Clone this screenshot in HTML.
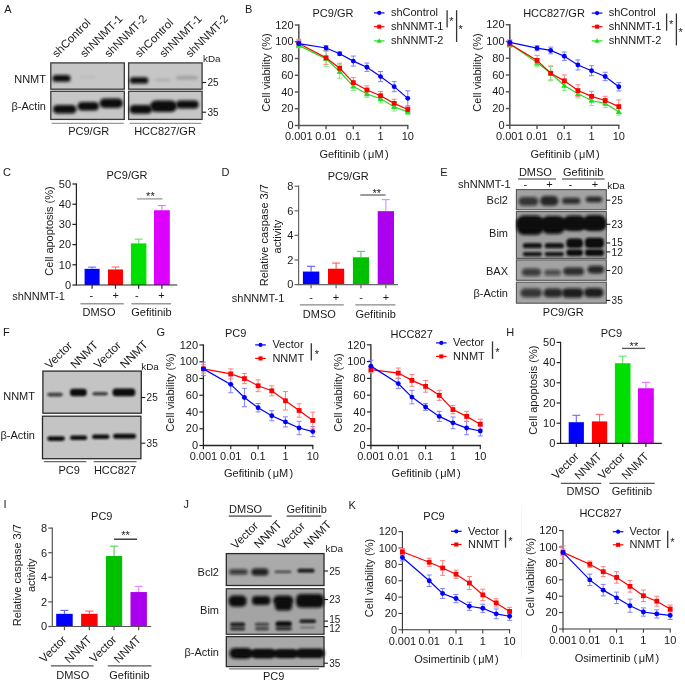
<!DOCTYPE html>
<html><head><meta charset="utf-8"><style>
html,body{margin:0;padding:0;background:#fff;}
svg{display:block;will-change:transform;}
text{font-family:"Liberation Sans", sans-serif;}
</style></head><body>
<svg width="685" height="684" viewBox="0 0 685 684">
<defs>
<filter id="b1" x="-30%" y="-80%" width="160%" height="260%"><feGaussianBlur stdDeviation="1.0"/></filter>
<filter id="b2" x="-30%" y="-80%" width="160%" height="260%"><feGaussianBlur stdDeviation="1.6"/></filter>
<filter id="b3" x="-30%" y="-80%" width="160%" height="260%"><feGaussianBlur stdDeviation="0.6"/></filter>
</defs>
<rect width="685" height="684" fill="#fff"/>
<text x="4.20" y="13.30" font-size="11" text-anchor="start" fill="#1a1a1a" >A</text>
<text x="245.00" y="12.70" font-size="11" text-anchor="start" fill="#1a1a1a" >B</text>
<text x="3.00" y="175.60" font-size="11" text-anchor="start" fill="#1a1a1a" >C</text>
<text x="221.50" y="175.50" font-size="11" text-anchor="start" fill="#1a1a1a" >D</text>
<text x="440.30" y="175.60" font-size="11" text-anchor="start" fill="#1a1a1a" >E</text>
<text x="3.00" y="335.80" font-size="11" text-anchor="start" fill="#1a1a1a" >F</text>
<text x="156.50" y="335.70" font-size="11" text-anchor="start" fill="#1a1a1a" >G</text>
<text x="506.30" y="335.80" font-size="11" text-anchor="start" fill="#1a1a1a" >H</text>
<text x="3.40" y="507.50" font-size="11" text-anchor="start" fill="#1a1a1a" >I</text>
<text x="183.60" y="508.40" font-size="11" text-anchor="start" fill="#1a1a1a" >J</text>
<text x="348.40" y="508.50" font-size="11" text-anchor="start" fill="#1a1a1a" >K</text>
<text transform="translate(56.70,58.00) rotate(-45)" font-size="11.4" text-anchor="start" fill="#1a1a1a" >shControl</text>
<text transform="translate(84.70,58.00) rotate(-45)" font-size="11.4" text-anchor="start" fill="#1a1a1a" >shNNMT-1</text>
<text transform="translate(109.00,58.00) rotate(-45)" font-size="11.4" text-anchor="start" fill="#1a1a1a" >shNNMT-2</text>
<text transform="translate(139.60,58.00) rotate(-45)" font-size="11.4" text-anchor="start" fill="#1a1a1a" >shControl</text>
<text transform="translate(164.00,58.00) rotate(-45)" font-size="11.4" text-anchor="start" fill="#1a1a1a" >shNNMT-1</text>
<text transform="translate(190.30,58.00) rotate(-45)" font-size="11.4" text-anchor="start" fill="#1a1a1a" >shNNMT-2</text>
<rect x="50.80" y="62.90" width="73.50" height="26.30" fill="#c6c6c6" stroke="#3a3a3a" stroke-width="1.3"/>
<rect x="50.80" y="91.30" width="73.50" height="28.10" fill="#c6c6c6" stroke="#3a3a3a" stroke-width="1.3"/>
<rect x="128.60" y="62.90" width="73.50" height="26.30" fill="#c6c6c6" stroke="#3a3a3a" stroke-width="1.3"/>
<rect x="128.60" y="91.30" width="73.50" height="28.10" fill="#c6c6c6" stroke="#3a3a3a" stroke-width="1.3"/>
<rect x="52.50" y="75.00" width="18.00" height="6.80" rx="3.40" fill="#0d0d0d" fill-opacity="1.0" filter="url(#b2)"/>
<rect x="129.80" y="77.20" width="18.50" height="6.40" rx="3.20" fill="#0d0d0d" fill-opacity="1.0" filter="url(#b2)"/>
<rect x="155.00" y="78.50" width="15.00" height="3.00" rx="1.50" fill="#0d0d0d" fill-opacity="0.12" filter="url(#b2)"/>
<rect x="176.00" y="76.00" width="22.00" height="3.50" rx="1.75" fill="#0d0d0d" fill-opacity="0.2" filter="url(#b2)"/>
<rect x="80.00" y="76.00" width="15.00" height="2.00" rx="1.00" fill="#0d0d0d" fill-opacity="0.06" filter="url(#b2)"/>
<rect x="53.00" y="105.00" width="23.50" height="8.50" rx="4.25" fill="#0d0d0d" fill-opacity="1.0" filter="url(#b2)"/>
<rect x="77.50" y="102.00" width="21.50" height="8.50" rx="4.25" fill="#0d0d0d" fill-opacity="1.0" filter="url(#b2)"/>
<rect x="99.50" y="98.50" width="23.50" height="9.50" rx="4.75" fill="#0d0d0d" fill-opacity="1.0" filter="url(#b2)"/>
<rect x="129.50" y="105.00" width="22.50" height="8.80" rx="4.40" fill="#0d0d0d" fill-opacity="1.0" filter="url(#b2)"/>
<rect x="150.00" y="100.50" width="27.00" height="11.50" rx="5.75" fill="#0d0d0d" fill-opacity="1.0" filter="url(#b2)"/>
<rect x="176.00" y="100.50" width="22.70" height="8.00" rx="4.00" fill="#0d0d0d" fill-opacity="1.0" filter="url(#b2)"/>
<text x="46.00" y="82.80" font-size="11" text-anchor="end" fill="#1a1a1a" >NNMT</text>
<text x="46.00" y="110.20" font-size="11" text-anchor="end" fill="#1a1a1a" >β-Actin</text>
<text x="203.00" y="61.80" font-size="9.9" text-anchor="start" fill="#1a1a1a" >kDa</text>
<line x1="202.10" y1="82.50" x2="206.10" y2="82.50" stroke="#1a1a1a" stroke-width="1.1" />
<text x="207.40" y="86.10" font-size="10" text-anchor="start" fill="#1a1a1a" >25</text>
<line x1="202.10" y1="112.20" x2="206.10" y2="112.20" stroke="#1a1a1a" stroke-width="1.1" />
<text x="207.40" y="115.80" font-size="10" text-anchor="start" fill="#1a1a1a" >35</text>
<line x1="51.60" y1="123.30" x2="123.80" y2="123.30" stroke="#999" stroke-width="1.3" />
<line x1="129.60" y1="123.30" x2="201.30" y2="123.30" stroke="#999" stroke-width="1.3" />
<text x="88.70" y="135.10" font-size="11" text-anchor="middle" fill="#1a1a1a" >PC9/GR</text>
<text x="165.00" y="135.10" font-size="11" text-anchor="middle" fill="#1a1a1a" >HCC827/GR</text>
<line x1="298.80" y1="126.30" x2="298.80" y2="24.20" stroke="#555" stroke-width="1.6" />
<line x1="294.80" y1="125.50" x2="298.80" y2="125.50" stroke="#555" stroke-width="1.4400000000000002" />
<text x="293.50" y="129.20" font-size="11" text-anchor="end" fill="#1a1a1a" >0</text>
<line x1="294.80" y1="108.75" x2="298.80" y2="108.75" stroke="#555" stroke-width="1.4400000000000002" />
<text x="293.50" y="112.45" font-size="11" text-anchor="end" fill="#1a1a1a" >20</text>
<line x1="294.80" y1="92.00" x2="298.80" y2="92.00" stroke="#555" stroke-width="1.4400000000000002" />
<text x="293.50" y="95.70" font-size="11" text-anchor="end" fill="#1a1a1a" >40</text>
<line x1="294.80" y1="75.25" x2="298.80" y2="75.25" stroke="#555" stroke-width="1.4400000000000002" />
<text x="293.50" y="78.95" font-size="11" text-anchor="end" fill="#1a1a1a" >60</text>
<line x1="294.80" y1="58.50" x2="298.80" y2="58.50" stroke="#555" stroke-width="1.4400000000000002" />
<text x="293.50" y="62.20" font-size="11" text-anchor="end" fill="#1a1a1a" >80</text>
<line x1="294.80" y1="41.75" x2="298.80" y2="41.75" stroke="#555" stroke-width="1.4400000000000002" />
<text x="293.50" y="45.45" font-size="11" text-anchor="end" fill="#1a1a1a" >100</text>
<line x1="294.80" y1="25.00" x2="298.80" y2="25.00" stroke="#555" stroke-width="1.4400000000000002" />
<text x="293.50" y="28.70" font-size="11" text-anchor="end" fill="#1a1a1a" >120</text>
<line x1="298.80" y1="125.50" x2="408.40" y2="125.50" stroke="#555" stroke-width="1.6" />
<line x1="298.80" y1="125.50" x2="298.80" y2="129.20" stroke="#555" stroke-width="1.4400000000000002" />
<text x="298.80" y="140.20" font-size="11" text-anchor="middle" fill="#1a1a1a" >0.001</text>
<line x1="326.05" y1="125.50" x2="326.05" y2="129.20" stroke="#555" stroke-width="1.4400000000000002" />
<text x="326.05" y="140.20" font-size="11" text-anchor="middle" fill="#1a1a1a" >0.01</text>
<line x1="353.30" y1="125.50" x2="353.30" y2="129.20" stroke="#555" stroke-width="1.4400000000000002" />
<text x="353.30" y="140.20" font-size="11" text-anchor="middle" fill="#1a1a1a" >0.1</text>
<line x1="380.55" y1="125.50" x2="380.55" y2="129.20" stroke="#555" stroke-width="1.4400000000000002" />
<text x="380.55" y="140.20" font-size="11" text-anchor="middle" fill="#1a1a1a" >1</text>
<line x1="407.80" y1="125.50" x2="407.80" y2="129.20" stroke="#555" stroke-width="1.4400000000000002" />
<text x="407.80" y="140.20" font-size="11" text-anchor="middle" fill="#1a1a1a" >10</text>
<text x="333.00" y="17.00" font-size="11" text-anchor="middle" fill="#1a1a1a" >PC9/GR</text>
<text x="354.00" y="158.00" font-size="11" text-anchor="middle" fill="#1a1a1a" >Gefitinib (<tspan dx="1.6">μM</tspan><tspan dx="1.3">)</tspan></text>
<text transform="translate(269.60,72.50) rotate(-90)" font-size="11" text-anchor="middle" fill="#1a1a1a" >Cell viability (%)</text>
<line x1="298.80" y1="46.94" x2="298.80" y2="40.24" stroke="#8080ff" stroke-width="1.0" />
<line x1="296.30" y1="40.24" x2="301.30" y2="40.24" stroke="#8080ff" stroke-width="1.0" />
<line x1="296.30" y1="46.94" x2="301.30" y2="46.94" stroke="#8080ff" stroke-width="1.0" />
<line x1="326.05" y1="50.54" x2="326.05" y2="45.52" stroke="#8080ff" stroke-width="1.0" />
<line x1="323.55" y1="45.52" x2="328.55" y2="45.52" stroke="#8080ff" stroke-width="1.0" />
<line x1="323.55" y1="50.54" x2="328.55" y2="50.54" stroke="#8080ff" stroke-width="1.0" />
<line x1="339.68" y1="55.40" x2="339.68" y2="52.05" stroke="#8080ff" stroke-width="1.0" />
<line x1="337.18" y1="52.05" x2="342.18" y2="52.05" stroke="#8080ff" stroke-width="1.0" />
<line x1="337.18" y1="55.40" x2="342.18" y2="55.40" stroke="#8080ff" stroke-width="1.0" />
<line x1="353.30" y1="66.12" x2="353.30" y2="56.07" stroke="#8080ff" stroke-width="1.0" />
<line x1="350.80" y1="56.07" x2="355.80" y2="56.07" stroke="#8080ff" stroke-width="1.0" />
<line x1="350.80" y1="66.12" x2="355.80" y2="66.12" stroke="#8080ff" stroke-width="1.0" />
<line x1="366.93" y1="71.40" x2="366.93" y2="63.02" stroke="#8080ff" stroke-width="1.0" />
<line x1="364.43" y1="63.02" x2="369.43" y2="63.02" stroke="#8080ff" stroke-width="1.0" />
<line x1="364.43" y1="71.40" x2="369.43" y2="71.40" stroke="#8080ff" stroke-width="1.0" />
<line x1="380.55" y1="81.62" x2="380.55" y2="71.56" stroke="#8080ff" stroke-width="1.0" />
<line x1="378.05" y1="71.56" x2="383.05" y2="71.56" stroke="#8080ff" stroke-width="1.0" />
<line x1="378.05" y1="81.62" x2="383.05" y2="81.62" stroke="#8080ff" stroke-width="1.0" />
<line x1="394.18" y1="91.66" x2="394.18" y2="81.62" stroke="#8080ff" stroke-width="1.0" />
<line x1="391.68" y1="81.62" x2="396.68" y2="81.62" stroke="#8080ff" stroke-width="1.0" />
<line x1="391.68" y1="91.66" x2="396.68" y2="91.66" stroke="#8080ff" stroke-width="1.0" />
<line x1="407.80" y1="105.90" x2="407.80" y2="90.83" stroke="#8080ff" stroke-width="1.0" />
<line x1="405.30" y1="90.83" x2="410.30" y2="90.83" stroke="#8080ff" stroke-width="1.0" />
<line x1="405.30" y1="105.90" x2="410.30" y2="105.90" stroke="#8080ff" stroke-width="1.0" />
<line x1="298.80" y1="47.61" x2="298.80" y2="39.24" stroke="#ff8080" stroke-width="1.0" />
<line x1="296.30" y1="39.24" x2="301.30" y2="39.24" stroke="#ff8080" stroke-width="1.0" />
<line x1="296.30" y1="47.61" x2="301.30" y2="47.61" stroke="#ff8080" stroke-width="1.0" />
<line x1="326.05" y1="64.45" x2="326.05" y2="51.05" stroke="#ff8080" stroke-width="1.0" />
<line x1="323.55" y1="51.05" x2="328.55" y2="51.05" stroke="#ff8080" stroke-width="1.0" />
<line x1="323.55" y1="64.45" x2="328.55" y2="64.45" stroke="#ff8080" stroke-width="1.0" />
<line x1="339.68" y1="73.24" x2="339.68" y2="63.19" stroke="#ff8080" stroke-width="1.0" />
<line x1="337.18" y1="63.19" x2="342.18" y2="63.19" stroke="#ff8080" stroke-width="1.0" />
<line x1="337.18" y1="73.24" x2="342.18" y2="73.24" stroke="#ff8080" stroke-width="1.0" />
<line x1="353.30" y1="87.64" x2="353.30" y2="77.59" stroke="#ff8080" stroke-width="1.0" />
<line x1="350.80" y1="77.59" x2="355.80" y2="77.59" stroke="#ff8080" stroke-width="1.0" />
<line x1="350.80" y1="87.64" x2="355.80" y2="87.64" stroke="#ff8080" stroke-width="1.0" />
<line x1="366.93" y1="94.18" x2="366.93" y2="85.80" stroke="#ff8080" stroke-width="1.0" />
<line x1="364.43" y1="85.80" x2="369.43" y2="85.80" stroke="#ff8080" stroke-width="1.0" />
<line x1="364.43" y1="94.18" x2="369.43" y2="94.18" stroke="#ff8080" stroke-width="1.0" />
<line x1="380.55" y1="99.87" x2="380.55" y2="91.50" stroke="#ff8080" stroke-width="1.0" />
<line x1="378.05" y1="91.50" x2="383.05" y2="91.50" stroke="#ff8080" stroke-width="1.0" />
<line x1="378.05" y1="99.87" x2="383.05" y2="99.87" stroke="#ff8080" stroke-width="1.0" />
<line x1="394.18" y1="107.58" x2="394.18" y2="99.20" stroke="#ff8080" stroke-width="1.0" />
<line x1="391.68" y1="99.20" x2="396.68" y2="99.20" stroke="#ff8080" stroke-width="1.0" />
<line x1="391.68" y1="107.58" x2="396.68" y2="107.58" stroke="#ff8080" stroke-width="1.0" />
<line x1="407.80" y1="112.85" x2="407.80" y2="106.15" stroke="#ff8080" stroke-width="1.0" />
<line x1="405.30" y1="106.15" x2="410.30" y2="106.15" stroke="#ff8080" stroke-width="1.0" />
<line x1="405.30" y1="112.85" x2="410.30" y2="112.85" stroke="#ff8080" stroke-width="1.0" />
<line x1="298.80" y1="47.86" x2="298.80" y2="42.84" stroke="#80ee80" stroke-width="1.0" />
<line x1="296.30" y1="42.84" x2="301.30" y2="42.84" stroke="#80ee80" stroke-width="1.0" />
<line x1="296.30" y1="47.86" x2="301.30" y2="47.86" stroke="#80ee80" stroke-width="1.0" />
<line x1="326.05" y1="66.37" x2="326.05" y2="51.30" stroke="#80ee80" stroke-width="1.0" />
<line x1="323.55" y1="51.30" x2="328.55" y2="51.30" stroke="#80ee80" stroke-width="1.0" />
<line x1="323.55" y1="66.37" x2="328.55" y2="66.37" stroke="#80ee80" stroke-width="1.0" />
<line x1="339.68" y1="78.18" x2="339.68" y2="64.78" stroke="#80ee80" stroke-width="1.0" />
<line x1="337.18" y1="64.78" x2="342.18" y2="64.78" stroke="#80ee80" stroke-width="1.0" />
<line x1="337.18" y1="78.18" x2="342.18" y2="78.18" stroke="#80ee80" stroke-width="1.0" />
<line x1="353.30" y1="90.49" x2="353.30" y2="82.12" stroke="#80ee80" stroke-width="1.0" />
<line x1="350.80" y1="82.12" x2="355.80" y2="82.12" stroke="#80ee80" stroke-width="1.0" />
<line x1="350.80" y1="90.49" x2="355.80" y2="90.49" stroke="#80ee80" stroke-width="1.0" />
<line x1="366.93" y1="97.36" x2="366.93" y2="90.66" stroke="#80ee80" stroke-width="1.0" />
<line x1="364.43" y1="90.66" x2="369.43" y2="90.66" stroke="#80ee80" stroke-width="1.0" />
<line x1="364.43" y1="97.36" x2="369.43" y2="97.36" stroke="#80ee80" stroke-width="1.0" />
<line x1="380.55" y1="102.89" x2="380.55" y2="94.51" stroke="#80ee80" stroke-width="1.0" />
<line x1="378.05" y1="94.51" x2="383.05" y2="94.51" stroke="#80ee80" stroke-width="1.0" />
<line x1="378.05" y1="102.89" x2="383.05" y2="102.89" stroke="#80ee80" stroke-width="1.0" />
<line x1="394.18" y1="111.01" x2="394.18" y2="102.64" stroke="#80ee80" stroke-width="1.0" />
<line x1="391.68" y1="102.64" x2="396.68" y2="102.64" stroke="#80ee80" stroke-width="1.0" />
<line x1="391.68" y1="111.01" x2="396.68" y2="111.01" stroke="#80ee80" stroke-width="1.0" />
<line x1="407.80" y1="114.36" x2="407.80" y2="109.34" stroke="#80ee80" stroke-width="1.0" />
<line x1="405.30" y1="109.34" x2="410.30" y2="109.34" stroke="#80ee80" stroke-width="1.0" />
<line x1="405.30" y1="114.36" x2="410.30" y2="114.36" stroke="#80ee80" stroke-width="1.0" />
<polyline points="298.80,45.35 326.05,58.84 339.68,71.48 353.30,86.31 366.93,94.01 380.55,98.70 394.18,106.82 407.80,111.85" fill="none" stroke="#22dd22" stroke-width="1.2"/>
<polygon points="298.80,42.35 301.80,47.60 295.80,47.60" fill="#22dd22"/>
<polygon points="326.05,55.84 329.05,61.09 323.05,61.09" fill="#22dd22"/>
<polygon points="339.68,68.48 342.68,73.73 336.68,73.73" fill="#22dd22"/>
<polygon points="353.30,83.31 356.30,88.56 350.30,88.56" fill="#22dd22"/>
<polygon points="366.93,91.01 369.93,96.26 363.93,96.26" fill="#22dd22"/>
<polygon points="380.55,95.70 383.55,100.95 377.55,100.95" fill="#22dd22"/>
<polygon points="394.18,103.82 397.18,109.07 391.18,109.07" fill="#22dd22"/>
<polygon points="407.80,108.85 410.80,114.10 404.80,114.10" fill="#22dd22"/>
<polyline points="298.80,43.42 326.05,57.75 339.68,68.22 353.30,82.62 366.93,89.99 380.55,95.69 394.18,103.39 407.80,109.50" fill="none" stroke="#ff0000" stroke-width="1.2"/>
<rect x="296.40" y="41.02" width="4.80" height="4.80" fill="#ff0000" />
<rect x="323.65" y="55.35" width="4.80" height="4.80" fill="#ff0000" />
<rect x="337.28" y="65.81" width="4.80" height="4.80" fill="#ff0000" />
<rect x="350.90" y="80.22" width="4.80" height="4.80" fill="#ff0000" />
<rect x="364.53" y="87.59" width="4.80" height="4.80" fill="#ff0000" />
<rect x="378.15" y="93.28" width="4.80" height="4.80" fill="#ff0000" />
<rect x="391.78" y="100.99" width="4.80" height="4.80" fill="#ff0000" />
<rect x="405.40" y="107.10" width="4.80" height="4.80" fill="#ff0000" />
<polyline points="298.80,43.59 326.05,48.03 339.68,53.73 353.30,61.10 366.93,67.21 380.55,76.59 394.18,86.64 407.80,98.37" fill="none" stroke="#0000ff" stroke-width="1.2"/>
<circle cx="298.80" cy="43.59" r="2.45" fill="#0000ff"/>
<circle cx="326.05" cy="48.03" r="2.45" fill="#0000ff"/>
<circle cx="339.68" cy="53.73" r="2.45" fill="#0000ff"/>
<circle cx="353.30" cy="61.10" r="2.45" fill="#0000ff"/>
<circle cx="366.93" cy="67.21" r="2.45" fill="#0000ff"/>
<circle cx="380.55" cy="76.59" r="2.45" fill="#0000ff"/>
<circle cx="394.18" cy="86.64" r="2.45" fill="#0000ff"/>
<circle cx="407.80" cy="98.37" r="2.45" fill="#0000ff"/>
<line x1="373.90" y1="12.90" x2="384.50" y2="12.90" stroke="#0000ff" stroke-width="1.2" />
<circle cx="379.20" cy="12.90" r="2.08" fill="#0000ff"/>
<text x="390.90" y="16.20" font-size="11" text-anchor="start" fill="#1a1a1a" >shControl</text>
<line x1="373.90" y1="26.70" x2="384.50" y2="26.70" stroke="#ff0000" stroke-width="1.2" />
<rect x="377.16" y="24.66" width="4.08" height="4.08" fill="#ff0000" />
<text x="390.90" y="30.00" font-size="11" text-anchor="start" fill="#1a1a1a" >shNNMT-1</text>
<line x1="373.90" y1="40.90" x2="384.50" y2="40.90" stroke="#22dd22" stroke-width="1.2" />
<polygon points="379.20,38.35 381.75,42.81 376.65,42.81" fill="#22dd22"/>
<text x="390.90" y="44.20" font-size="11" text-anchor="start" fill="#1a1a1a" >shNNMT-2</text>
<line x1="447.10" y1="10.20" x2="447.10" y2="27.60" stroke="#333" stroke-width="1.3" />
<text x="451.50" y="24.90" font-size="11" text-anchor="middle" fill="#1a1a1a" >*</text>
<line x1="456.60" y1="10.20" x2="456.60" y2="42.00" stroke="#333" stroke-width="1.3" />
<text x="460.70" y="33.10" font-size="11" text-anchor="middle" fill="#1a1a1a" >*</text>
<line x1="509.80" y1="126.10" x2="509.80" y2="23.90" stroke="#555" stroke-width="1.6" />
<line x1="505.80" y1="125.30" x2="509.80" y2="125.30" stroke="#555" stroke-width="1.4400000000000002" />
<text x="504.50" y="129.00" font-size="11" text-anchor="end" fill="#1a1a1a" >0</text>
<line x1="505.80" y1="108.53" x2="509.80" y2="108.53" stroke="#555" stroke-width="1.4400000000000002" />
<text x="504.50" y="112.23" font-size="11" text-anchor="end" fill="#1a1a1a" >20</text>
<line x1="505.80" y1="91.77" x2="509.80" y2="91.77" stroke="#555" stroke-width="1.4400000000000002" />
<text x="504.50" y="95.47" font-size="11" text-anchor="end" fill="#1a1a1a" >40</text>
<line x1="505.80" y1="75.00" x2="509.80" y2="75.00" stroke="#555" stroke-width="1.4400000000000002" />
<text x="504.50" y="78.70" font-size="11" text-anchor="end" fill="#1a1a1a" >60</text>
<line x1="505.80" y1="58.24" x2="509.80" y2="58.24" stroke="#555" stroke-width="1.4400000000000002" />
<text x="504.50" y="61.94" font-size="11" text-anchor="end" fill="#1a1a1a" >80</text>
<line x1="505.80" y1="41.47" x2="509.80" y2="41.47" stroke="#555" stroke-width="1.4400000000000002" />
<text x="504.50" y="45.17" font-size="11" text-anchor="end" fill="#1a1a1a" >100</text>
<line x1="505.80" y1="24.70" x2="509.80" y2="24.70" stroke="#555" stroke-width="1.4400000000000002" />
<text x="504.50" y="28.40" font-size="11" text-anchor="end" fill="#1a1a1a" >120</text>
<line x1="509.80" y1="125.30" x2="619.40" y2="125.30" stroke="#555" stroke-width="1.6" />
<line x1="509.80" y1="125.30" x2="509.80" y2="129.00" stroke="#555" stroke-width="1.4400000000000002" />
<text x="509.80" y="140.00" font-size="11" text-anchor="middle" fill="#1a1a1a" >0.001</text>
<line x1="537.05" y1="125.30" x2="537.05" y2="129.00" stroke="#555" stroke-width="1.4400000000000002" />
<text x="537.05" y="140.00" font-size="11" text-anchor="middle" fill="#1a1a1a" >0.01</text>
<line x1="564.30" y1="125.30" x2="564.30" y2="129.00" stroke="#555" stroke-width="1.4400000000000002" />
<text x="564.30" y="140.00" font-size="11" text-anchor="middle" fill="#1a1a1a" >0.1</text>
<line x1="591.55" y1="125.30" x2="591.55" y2="129.00" stroke="#555" stroke-width="1.4400000000000002" />
<text x="591.55" y="140.00" font-size="11" text-anchor="middle" fill="#1a1a1a" >1</text>
<line x1="618.80" y1="125.30" x2="618.80" y2="129.00" stroke="#555" stroke-width="1.4400000000000002" />
<text x="618.80" y="140.00" font-size="11" text-anchor="middle" fill="#1a1a1a" >10</text>
<text x="554.00" y="17.00" font-size="11" text-anchor="middle" fill="#1a1a1a" >HCC827/GR</text>
<text x="565.00" y="157.50" font-size="11" text-anchor="middle" fill="#1a1a1a" >Gefitinib (<tspan dx="1.6">μM</tspan><tspan dx="1.3">)</tspan></text>
<text transform="translate(480.60,72.50) rotate(-90)" font-size="11" text-anchor="middle" fill="#1a1a1a" >Cell viability (%)</text>
<line x1="509.80" y1="44.91" x2="509.80" y2="39.88" stroke="#8080ff" stroke-width="1.0" />
<line x1="507.30" y1="39.88" x2="512.30" y2="39.88" stroke="#8080ff" stroke-width="1.0" />
<line x1="507.30" y1="44.91" x2="512.30" y2="44.91" stroke="#8080ff" stroke-width="1.0" />
<line x1="537.05" y1="50.69" x2="537.05" y2="45.66" stroke="#8080ff" stroke-width="1.0" />
<line x1="534.55" y1="45.66" x2="539.55" y2="45.66" stroke="#8080ff" stroke-width="1.0" />
<line x1="534.55" y1="50.69" x2="539.55" y2="50.69" stroke="#8080ff" stroke-width="1.0" />
<line x1="550.67" y1="53.79" x2="550.67" y2="47.09" stroke="#8080ff" stroke-width="1.0" />
<line x1="548.17" y1="47.09" x2="553.17" y2="47.09" stroke="#8080ff" stroke-width="1.0" />
<line x1="548.17" y1="53.79" x2="553.17" y2="53.79" stroke="#8080ff" stroke-width="1.0" />
<line x1="564.30" y1="60.42" x2="564.30" y2="52.03" stroke="#8080ff" stroke-width="1.0" />
<line x1="561.80" y1="52.03" x2="566.80" y2="52.03" stroke="#8080ff" stroke-width="1.0" />
<line x1="561.80" y1="60.42" x2="566.80" y2="60.42" stroke="#8080ff" stroke-width="1.0" />
<line x1="577.92" y1="69.97" x2="577.92" y2="59.91" stroke="#8080ff" stroke-width="1.0" />
<line x1="575.42" y1="59.91" x2="580.42" y2="59.91" stroke="#8080ff" stroke-width="1.0" />
<line x1="575.42" y1="69.97" x2="580.42" y2="69.97" stroke="#8080ff" stroke-width="1.0" />
<line x1="591.55" y1="75.76" x2="591.55" y2="65.70" stroke="#8080ff" stroke-width="1.0" />
<line x1="589.05" y1="65.70" x2="594.05" y2="65.70" stroke="#8080ff" stroke-width="1.0" />
<line x1="589.05" y1="75.76" x2="594.05" y2="75.76" stroke="#8080ff" stroke-width="1.0" />
<line x1="605.17" y1="80.62" x2="605.17" y2="72.24" stroke="#8080ff" stroke-width="1.0" />
<line x1="602.67" y1="72.24" x2="607.67" y2="72.24" stroke="#8080ff" stroke-width="1.0" />
<line x1="602.67" y1="80.62" x2="607.67" y2="80.62" stroke="#8080ff" stroke-width="1.0" />
<line x1="618.80" y1="90.93" x2="618.80" y2="82.55" stroke="#8080ff" stroke-width="1.0" />
<line x1="616.30" y1="82.55" x2="621.30" y2="82.55" stroke="#8080ff" stroke-width="1.0" />
<line x1="616.30" y1="90.93" x2="621.30" y2="90.93" stroke="#8080ff" stroke-width="1.0" />
<line x1="509.80" y1="47.34" x2="509.80" y2="40.63" stroke="#ff8080" stroke-width="1.0" />
<line x1="507.30" y1="40.63" x2="512.30" y2="40.63" stroke="#ff8080" stroke-width="1.0" />
<line x1="507.30" y1="47.34" x2="512.30" y2="47.34" stroke="#ff8080" stroke-width="1.0" />
<line x1="537.05" y1="65.45" x2="537.05" y2="55.39" stroke="#ff8080" stroke-width="1.0" />
<line x1="534.55" y1="55.39" x2="539.55" y2="55.39" stroke="#ff8080" stroke-width="1.0" />
<line x1="534.55" y1="65.45" x2="539.55" y2="65.45" stroke="#ff8080" stroke-width="1.0" />
<line x1="550.67" y1="79.95" x2="550.67" y2="66.54" stroke="#ff8080" stroke-width="1.0" />
<line x1="548.17" y1="66.54" x2="553.17" y2="66.54" stroke="#ff8080" stroke-width="1.0" />
<line x1="548.17" y1="79.95" x2="553.17" y2="79.95" stroke="#ff8080" stroke-width="1.0" />
<line x1="564.30" y1="86.74" x2="564.30" y2="75.00" stroke="#ff8080" stroke-width="1.0" />
<line x1="561.80" y1="75.00" x2="566.80" y2="75.00" stroke="#ff8080" stroke-width="1.0" />
<line x1="561.80" y1="86.74" x2="566.80" y2="86.74" stroke="#ff8080" stroke-width="1.0" />
<line x1="577.92" y1="96.46" x2="577.92" y2="84.73" stroke="#ff8080" stroke-width="1.0" />
<line x1="575.42" y1="84.73" x2="580.42" y2="84.73" stroke="#ff8080" stroke-width="1.0" />
<line x1="575.42" y1="96.46" x2="580.42" y2="96.46" stroke="#ff8080" stroke-width="1.0" />
<line x1="591.55" y1="101.41" x2="591.55" y2="91.35" stroke="#ff8080" stroke-width="1.0" />
<line x1="589.05" y1="91.35" x2="594.05" y2="91.35" stroke="#ff8080" stroke-width="1.0" />
<line x1="589.05" y1="101.41" x2="594.05" y2="101.41" stroke="#ff8080" stroke-width="1.0" />
<line x1="605.17" y1="104.68" x2="605.17" y2="96.29" stroke="#ff8080" stroke-width="1.0" />
<line x1="602.67" y1="96.29" x2="607.67" y2="96.29" stroke="#ff8080" stroke-width="1.0" />
<line x1="602.67" y1="104.68" x2="607.67" y2="104.68" stroke="#ff8080" stroke-width="1.0" />
<line x1="618.80" y1="113.31" x2="618.80" y2="99.90" stroke="#ff8080" stroke-width="1.0" />
<line x1="616.30" y1="99.90" x2="621.30" y2="99.90" stroke="#ff8080" stroke-width="1.0" />
<line x1="616.30" y1="113.31" x2="621.30" y2="113.31" stroke="#ff8080" stroke-width="1.0" />
<line x1="509.80" y1="46.50" x2="509.80" y2="41.47" stroke="#80ee80" stroke-width="1.0" />
<line x1="507.30" y1="41.47" x2="512.30" y2="41.47" stroke="#80ee80" stroke-width="1.0" />
<line x1="507.30" y1="46.50" x2="512.30" y2="46.50" stroke="#80ee80" stroke-width="1.0" />
<line x1="537.05" y1="66.79" x2="537.05" y2="58.40" stroke="#80ee80" stroke-width="1.0" />
<line x1="534.55" y1="58.40" x2="539.55" y2="58.40" stroke="#80ee80" stroke-width="1.0" />
<line x1="534.55" y1="66.79" x2="539.55" y2="66.79" stroke="#80ee80" stroke-width="1.0" />
<line x1="550.67" y1="80.87" x2="550.67" y2="65.78" stroke="#80ee80" stroke-width="1.0" />
<line x1="548.17" y1="65.78" x2="553.17" y2="65.78" stroke="#80ee80" stroke-width="1.0" />
<line x1="548.17" y1="80.87" x2="553.17" y2="80.87" stroke="#80ee80" stroke-width="1.0" />
<line x1="564.30" y1="90.43" x2="564.30" y2="80.37" stroke="#80ee80" stroke-width="1.0" />
<line x1="561.80" y1="80.37" x2="566.80" y2="80.37" stroke="#80ee80" stroke-width="1.0" />
<line x1="561.80" y1="90.43" x2="566.80" y2="90.43" stroke="#80ee80" stroke-width="1.0" />
<line x1="577.92" y1="97.97" x2="577.92" y2="89.59" stroke="#80ee80" stroke-width="1.0" />
<line x1="575.42" y1="89.59" x2="580.42" y2="89.59" stroke="#80ee80" stroke-width="1.0" />
<line x1="575.42" y1="97.97" x2="580.42" y2="97.97" stroke="#80ee80" stroke-width="1.0" />
<line x1="591.55" y1="105.52" x2="591.55" y2="95.46" stroke="#80ee80" stroke-width="1.0" />
<line x1="589.05" y1="95.46" x2="594.05" y2="95.46" stroke="#80ee80" stroke-width="1.0" />
<line x1="589.05" y1="105.52" x2="594.05" y2="105.52" stroke="#80ee80" stroke-width="1.0" />
<line x1="605.17" y1="107.61" x2="605.17" y2="99.23" stroke="#80ee80" stroke-width="1.0" />
<line x1="602.67" y1="99.23" x2="607.67" y2="99.23" stroke="#80ee80" stroke-width="1.0" />
<line x1="602.67" y1="107.61" x2="607.67" y2="107.61" stroke="#80ee80" stroke-width="1.0" />
<line x1="618.80" y1="115.16" x2="618.80" y2="108.45" stroke="#80ee80" stroke-width="1.0" />
<line x1="616.30" y1="108.45" x2="621.30" y2="108.45" stroke="#80ee80" stroke-width="1.0" />
<line x1="616.30" y1="115.16" x2="621.30" y2="115.16" stroke="#80ee80" stroke-width="1.0" />
<polyline points="509.80,43.98 537.05,62.60 550.67,73.33 564.30,85.40 577.92,93.78 591.55,100.49 605.17,103.42 618.80,111.80" fill="none" stroke="#22dd22" stroke-width="1.2"/>
<polygon points="509.80,40.98 512.80,46.23 506.80,46.23" fill="#22dd22"/>
<polygon points="537.05,59.60 540.05,64.85 534.05,64.85" fill="#22dd22"/>
<polygon points="550.67,70.33 553.67,75.58 547.67,75.58" fill="#22dd22"/>
<polygon points="564.30,82.40 567.30,87.65 561.30,87.65" fill="#22dd22"/>
<polygon points="577.92,90.78 580.92,96.03 574.92,96.03" fill="#22dd22"/>
<polygon points="591.55,97.49 594.55,102.74 588.55,102.74" fill="#22dd22"/>
<polygon points="605.17,100.42 608.17,105.67 602.17,105.67" fill="#22dd22"/>
<polygon points="618.80,108.80 621.80,114.05 615.80,114.05" fill="#22dd22"/>
<polyline points="509.80,43.98 537.05,60.42 550.67,73.24 564.30,80.87 577.92,90.59 591.55,96.38 605.17,100.49 618.80,106.61" fill="none" stroke="#ff0000" stroke-width="1.2"/>
<rect x="507.40" y="41.58" width="4.80" height="4.80" fill="#ff0000" />
<rect x="534.65" y="58.02" width="4.80" height="4.80" fill="#ff0000" />
<rect x="548.27" y="70.84" width="4.80" height="4.80" fill="#ff0000" />
<rect x="561.90" y="78.47" width="4.80" height="4.80" fill="#ff0000" />
<rect x="575.52" y="88.19" width="4.80" height="4.80" fill="#ff0000" />
<rect x="589.15" y="93.98" width="4.80" height="4.80" fill="#ff0000" />
<rect x="602.77" y="98.09" width="4.80" height="4.80" fill="#ff0000" />
<rect x="616.40" y="104.21" width="4.80" height="4.80" fill="#ff0000" />
<polyline points="509.80,42.39 537.05,48.18 550.67,50.44 564.30,56.22 577.92,64.94 591.55,70.73 605.17,76.43 618.80,86.74" fill="none" stroke="#0000ff" stroke-width="1.2"/>
<circle cx="509.80" cy="42.39" r="2.45" fill="#0000ff"/>
<circle cx="537.05" cy="48.18" r="2.45" fill="#0000ff"/>
<circle cx="550.67" cy="50.44" r="2.45" fill="#0000ff"/>
<circle cx="564.30" cy="56.22" r="2.45" fill="#0000ff"/>
<circle cx="577.92" cy="64.94" r="2.45" fill="#0000ff"/>
<circle cx="591.55" cy="70.73" r="2.45" fill="#0000ff"/>
<circle cx="605.17" cy="76.43" r="2.45" fill="#0000ff"/>
<circle cx="618.80" cy="86.74" r="2.45" fill="#0000ff"/>
<line x1="591.80" y1="13.10" x2="602.40" y2="13.10" stroke="#0000ff" stroke-width="1.2" />
<circle cx="597.10" cy="13.10" r="2.08" fill="#0000ff"/>
<text x="608.70" y="16.40" font-size="11" text-anchor="start" fill="#1a1a1a" >shControl</text>
<line x1="591.80" y1="26.70" x2="602.40" y2="26.70" stroke="#ff0000" stroke-width="1.2" />
<rect x="595.06" y="24.66" width="4.08" height="4.08" fill="#ff0000" />
<text x="608.70" y="30.00" font-size="11" text-anchor="start" fill="#1a1a1a" >shNNMT-1</text>
<line x1="591.80" y1="40.90" x2="602.40" y2="40.90" stroke="#22dd22" stroke-width="1.2" />
<polygon points="597.10,38.35 599.65,42.81 594.55,42.81" fill="#22dd22"/>
<text x="608.70" y="44.20" font-size="11" text-anchor="start" fill="#1a1a1a" >shNNMT-2</text>
<line x1="666.60" y1="13.50" x2="666.60" y2="30.70" stroke="#333" stroke-width="1.3" />
<text x="671.20" y="28.00" font-size="11" text-anchor="middle" fill="#1a1a1a" >*</text>
<line x1="676.40" y1="13.50" x2="676.40" y2="45.40" stroke="#333" stroke-width="1.3" />
<text x="680.60" y="36.40" font-size="11" text-anchor="middle" fill="#1a1a1a" >*</text>
<line x1="92.10" y1="268.84" x2="92.10" y2="267.12" stroke="#6a6aff" stroke-width="1.1" />
<line x1="88.10" y1="267.12" x2="96.10" y2="267.12" stroke="#6a6aff" stroke-width="1.1" />
<rect x="84.60" y="268.84" width="15.00" height="16.16" fill="#0000ff" />
<line x1="115.50" y1="269.45" x2="115.50" y2="267.02" stroke="#ff6a6a" stroke-width="1.1" />
<line x1="111.50" y1="267.02" x2="119.50" y2="267.02" stroke="#ff6a6a" stroke-width="1.1" />
<rect x="108.00" y="269.45" width="15.00" height="15.55" fill="#ff0000" />
<line x1="138.65" y1="243.39" x2="138.65" y2="239.15" stroke="#60e860" stroke-width="1.1" />
<line x1="134.65" y1="239.15" x2="142.65" y2="239.15" stroke="#60e860" stroke-width="1.1" />
<rect x="130.90" y="243.39" width="15.50" height="41.61" fill="#00e000" />
<line x1="161.90" y1="210.26" x2="161.90" y2="205.61" stroke="#e870ff" stroke-width="1.1" />
<line x1="157.90" y1="205.61" x2="165.90" y2="205.61" stroke="#e870ff" stroke-width="1.1" />
<rect x="154.00" y="210.26" width="15.80" height="74.74" fill="#dd00ff" />
<line x1="76.40" y1="285.60" x2="76.40" y2="183.40" stroke="#222" stroke-width="1.2" />
<line x1="72.40" y1="285.00" x2="76.40" y2="285.00" stroke="#222" stroke-width="1.2" />
<text x="71.10" y="288.80" font-size="11" text-anchor="end" fill="#1a1a1a" >0</text>
<line x1="72.40" y1="264.80" x2="76.40" y2="264.80" stroke="#222" stroke-width="1.2" />
<text x="71.10" y="268.60" font-size="11" text-anchor="end" fill="#1a1a1a" >10</text>
<line x1="72.40" y1="244.60" x2="76.40" y2="244.60" stroke="#222" stroke-width="1.2" />
<text x="71.10" y="248.40" font-size="11" text-anchor="end" fill="#1a1a1a" >20</text>
<line x1="72.40" y1="224.40" x2="76.40" y2="224.40" stroke="#222" stroke-width="1.2" />
<text x="71.10" y="228.20" font-size="11" text-anchor="end" fill="#1a1a1a" >30</text>
<line x1="72.40" y1="204.20" x2="76.40" y2="204.20" stroke="#222" stroke-width="1.2" />
<text x="71.10" y="208.00" font-size="11" text-anchor="end" fill="#1a1a1a" >40</text>
<line x1="72.40" y1="184.00" x2="76.40" y2="184.00" stroke="#222" stroke-width="1.2" />
<text x="71.10" y="187.80" font-size="11" text-anchor="end" fill="#1a1a1a" >50</text>
<line x1="76.40" y1="285.00" x2="177.30" y2="285.00" stroke="#222" stroke-width="1.2" />
<line x1="92.10" y1="285.00" x2="92.10" y2="288.70" stroke="#222" stroke-width="1.2" />
<line x1="115.50" y1="285.00" x2="115.50" y2="288.70" stroke="#222" stroke-width="1.2" />
<line x1="138.65" y1="285.00" x2="138.65" y2="288.70" stroke="#222" stroke-width="1.2" />
<line x1="161.90" y1="285.00" x2="161.90" y2="288.70" stroke="#222" stroke-width="1.2" />
<text transform="translate(52.50,231.00) rotate(-90)" font-size="11" text-anchor="middle" fill="#1a1a1a" >Cell apoptosis (%)</text>
<text x="127.00" y="178.70" font-size="11" text-anchor="middle" fill="#1a1a1a" >PC9/GR</text>
<line x1="137.10" y1="198.90" x2="162.50" y2="198.90" stroke="#999" stroke-width="1.3" />
<text x="150.40" y="200.15" font-size="11" text-anchor="middle" fill="#1a1a1a" >**</text>
<text x="12.20" y="300.40" font-size="11" text-anchor="start" fill="#1a1a1a" >shNNMT-1</text>
<text x="91.30" y="299.20" font-size="11" text-anchor="middle" fill="#1a1a1a" >-</text>
<text x="115.60" y="299.20" font-size="11" text-anchor="middle" fill="#1a1a1a" >+</text>
<text x="136.90" y="299.20" font-size="11" text-anchor="middle" fill="#1a1a1a" >-</text>
<text x="161.40" y="299.20" font-size="11" text-anchor="middle" fill="#1a1a1a" >+</text>
<line x1="80.40" y1="303.80" x2="123.80" y2="303.80" stroke="#999" stroke-width="1.4" />
<line x1="131.30" y1="303.80" x2="171.10" y2="303.80" stroke="#999" stroke-width="1.4" />
<text x="99.00" y="316.10" font-size="11" text-anchor="middle" fill="#1a1a1a" >DMSO</text>
<text x="151.50" y="316.10" font-size="11" text-anchor="middle" fill="#1a1a1a" >Gefitinib</text>
<line x1="311.10" y1="271.56" x2="311.10" y2="266.27" stroke="#5a5aff" stroke-width="1.1" />
<line x1="307.10" y1="266.27" x2="315.10" y2="266.27" stroke="#5a5aff" stroke-width="1.1" />
<rect x="302.90" y="271.56" width="16.40" height="13.04" fill="#0000ff" />
<line x1="336.10" y1="268.73" x2="336.10" y2="263.08" stroke="#ff5a5a" stroke-width="1.1" />
<line x1="332.10" y1="263.08" x2="340.10" y2="263.08" stroke="#ff5a5a" stroke-width="1.1" />
<rect x="328.00" y="268.73" width="16.20" height="15.87" fill="#ff0000" />
<line x1="360.95" y1="257.29" x2="360.95" y2="251.39" stroke="#50d050" stroke-width="1.1" />
<line x1="356.95" y1="251.39" x2="364.95" y2="251.39" stroke="#50d050" stroke-width="1.1" />
<rect x="352.90" y="257.29" width="16.10" height="27.31" fill="#00c000" />
<line x1="385.85" y1="211.17" x2="385.85" y2="199.61" stroke="#dd88ff" stroke-width="1.1" />
<line x1="381.85" y1="199.61" x2="389.85" y2="199.61" stroke="#dd88ff" stroke-width="1.1" />
<rect x="377.70" y="211.17" width="16.30" height="73.43" fill="#aa00ee" />
<line x1="298.60" y1="285.20" x2="298.60" y2="185.60" stroke="#666" stroke-width="1.2" />
<line x1="294.60" y1="284.60" x2="298.60" y2="284.60" stroke="#666" stroke-width="1.2" />
<text x="293.30" y="288.40" font-size="11" text-anchor="end" fill="#1a1a1a" >0</text>
<line x1="294.60" y1="260.00" x2="298.60" y2="260.00" stroke="#666" stroke-width="1.2" />
<text x="293.30" y="263.80" font-size="11" text-anchor="end" fill="#1a1a1a" >2</text>
<line x1="294.60" y1="235.40" x2="298.60" y2="235.40" stroke="#666" stroke-width="1.2" />
<text x="293.30" y="239.20" font-size="11" text-anchor="end" fill="#1a1a1a" >4</text>
<line x1="294.60" y1="210.80" x2="298.60" y2="210.80" stroke="#666" stroke-width="1.2" />
<text x="293.30" y="214.60" font-size="11" text-anchor="end" fill="#1a1a1a" >6</text>
<line x1="294.60" y1="186.20" x2="298.60" y2="186.20" stroke="#666" stroke-width="1.2" />
<text x="293.30" y="190.00" font-size="11" text-anchor="end" fill="#1a1a1a" >8</text>
<line x1="298.60" y1="284.60" x2="397.90" y2="284.60" stroke="#666" stroke-width="1.2" />
<line x1="311.10" y1="284.60" x2="311.10" y2="288.30" stroke="#666" stroke-width="1.2" />
<line x1="336.10" y1="284.60" x2="336.10" y2="288.30" stroke="#666" stroke-width="1.2" />
<line x1="360.95" y1="284.60" x2="360.95" y2="288.30" stroke="#666" stroke-width="1.2" />
<line x1="385.85" y1="284.60" x2="385.85" y2="288.30" stroke="#666" stroke-width="1.2" />
<text transform="translate(267.70,235.20) rotate(-90)" font-size="11" text-anchor="middle" fill="#1a1a1a" >Relative caspase 3/7</text>
<text transform="translate(281.10,236.60) rotate(-90)" font-size="11" text-anchor="middle" fill="#1a1a1a" >activity</text>
<text x="348.20" y="180.00" font-size="11" text-anchor="middle" fill="#1a1a1a" >PC9/GR</text>
<line x1="360.30" y1="195.00" x2="385.60" y2="195.00" stroke="#666" stroke-width="1.3" />
<text x="376.70" y="196.65" font-size="11" text-anchor="middle" fill="#1a1a1a" >**</text>
<text x="231.80" y="302.20" font-size="11" text-anchor="start" fill="#1a1a1a" >shNNMT-1</text>
<text x="311.00" y="301.00" font-size="11" text-anchor="middle" fill="#1a1a1a" >-</text>
<text x="336.00" y="301.00" font-size="11" text-anchor="middle" fill="#1a1a1a" >+</text>
<text x="361.00" y="301.00" font-size="11" text-anchor="middle" fill="#1a1a1a" >-</text>
<text x="386.00" y="301.00" font-size="11" text-anchor="middle" fill="#1a1a1a" >+</text>
<line x1="299.90" y1="304.90" x2="343.80" y2="304.90" stroke="#888" stroke-width="1.3" />
<line x1="355.30" y1="304.90" x2="395.50" y2="304.90" stroke="#888" stroke-width="1.3" />
<text x="319.30" y="318.20" font-size="11" text-anchor="middle" fill="#1a1a1a" >DMSO</text>
<text x="375.60" y="318.20" font-size="11" text-anchor="middle" fill="#1a1a1a" >Gefitinib</text>
<text x="535.40" y="176.40" font-size="11" text-anchor="middle" fill="#1a1a1a" >DMSO</text>
<text x="583.20" y="176.40" font-size="11" text-anchor="middle" fill="#1a1a1a" >Gefitinib</text>
<line x1="517.90" y1="178.90" x2="555.90" y2="178.90" stroke="#777" stroke-width="1.5" />
<line x1="562.00" y1="178.90" x2="604.60" y2="178.90" stroke="#777" stroke-width="1.5" />
<text x="458.10" y="188.40" font-size="11" text-anchor="start" fill="#1a1a1a" >shNNMT-1</text>
<text x="525.40" y="188.40" font-size="11" text-anchor="middle" fill="#1a1a1a" >-</text>
<text x="549.40" y="188.40" font-size="11" text-anchor="middle" fill="#1a1a1a" >+</text>
<text x="570.40" y="188.40" font-size="11" text-anchor="middle" fill="#1a1a1a" >-</text>
<text x="595.00" y="188.40" font-size="11" text-anchor="middle" fill="#1a1a1a" >+</text>
<text x="607.20" y="188.80" font-size="9.9" text-anchor="start" fill="#1a1a1a" >kDa</text>
<rect x="516.40" y="189.60" width="89.90" height="20.10" fill="#a3a3a3" stroke="#555555" stroke-width="1.1"/>
<rect x="516.40" y="211.50" width="89.90" height="46.90" fill="#9e9e9e" stroke="#555555" stroke-width="1.1"/>
<rect x="516.40" y="259.90" width="89.90" height="20.40" fill="#a3a3a3" stroke="#555555" stroke-width="1.1"/>
<rect x="516.40" y="282.20" width="89.90" height="21.00" fill="#a3a3a3" stroke="#555555" stroke-width="1.1"/>
<rect x="518.50" y="197.00" width="19.80" height="8.80" rx="4.40" fill="#0d0d0d" fill-opacity="0.75" filter="url(#b2)"/>
<rect x="540.10" y="196.00" width="18.30" height="9.80" rx="4.90" fill="#0d0d0d" fill-opacity="0.85" filter="url(#b2)"/>
<rect x="562.00" y="197.80" width="18.30" height="6.20" rx="3.10" fill="#0d0d0d" fill-opacity="0.8" filter="url(#b2)"/>
<rect x="585.80" y="196.80" width="16.40" height="5.40" rx="2.70" fill="#0d0d0d" fill-opacity="0.85" filter="url(#b2)"/>
<rect x="517.00" y="215.50" width="26.50" height="19.50" rx="7.00" fill="#0d0d0d" fill-opacity="1.0" filter="url(#b2)"/>
<rect x="541.50" y="216.00" width="23.50" height="18.00" rx="7.00" fill="#0d0d0d" fill-opacity="1.0" filter="url(#b2)"/>
<rect x="563.50" y="215.50" width="21.50" height="15.50" rx="6.00" fill="#0d0d0d" fill-opacity="1.0" filter="url(#b2)"/>
<rect x="583.50" y="215.00" width="22.00" height="16.00" rx="6.00" fill="#0d0d0d" fill-opacity="1.0" filter="url(#b2)"/>
<rect x="517.00" y="219.00" width="88.00" height="10.00" rx="3.00" fill="#0d0d0d" fill-opacity="1.0" filter="url(#b1)"/>
<rect x="522.80" y="243.00" width="19.20" height="5.30" rx="2.65" fill="#0d0d0d" fill-opacity="0.95" filter="url(#b1)"/>
<rect x="544.70" y="243.00" width="19.20" height="5.30" rx="2.65" fill="#0d0d0d" fill-opacity="0.95" filter="url(#b1)"/>
<rect x="566.30" y="238.50" width="16.70" height="9.50" rx="4.00" fill="#0d0d0d" fill-opacity="1.0" filter="url(#b1)"/>
<rect x="584.90" y="237.80" width="19.10" height="10.20" rx="4.00" fill="#0d0d0d" fill-opacity="1.0" filter="url(#b1)"/>
<rect x="522.80" y="252.00" width="19.20" height="4.30" rx="2.15" fill="#0d0d0d" fill-opacity="0.95" filter="url(#b1)"/>
<rect x="544.70" y="252.00" width="19.20" height="4.30" rx="2.15" fill="#0d0d0d" fill-opacity="0.95" filter="url(#b1)"/>
<rect x="566.30" y="249.50" width="16.70" height="6.50" rx="3.25" fill="#0d0d0d" fill-opacity="1.0" filter="url(#b1)"/>
<rect x="584.90" y="249.30" width="19.10" height="6.70" rx="3.35" fill="#0d0d0d" fill-opacity="1.0" filter="url(#b1)"/>
<rect x="521.90" y="268.50" width="19.10" height="7.50" rx="3.75" fill="#0d0d0d" fill-opacity="0.7" filter="url(#b2)"/>
<rect x="544.30" y="269.80" width="16.50" height="5.80" rx="2.90" fill="#0d0d0d" fill-opacity="0.6" filter="url(#b2)"/>
<rect x="563.30" y="267.50" width="20.70" height="7.70" rx="3.85" fill="#0d0d0d" fill-opacity="0.8" filter="url(#b2)"/>
<rect x="587.60" y="265.80" width="16.40" height="7.60" rx="3.80" fill="#0d0d0d" fill-opacity="0.85" filter="url(#b2)"/>
<rect x="520.50" y="288.50" width="21.50" height="8.80" rx="4.40" fill="#0d0d0d" fill-opacity="0.75" filter="url(#b2)"/>
<rect x="543.50" y="288.50" width="19.00" height="8.80" rx="4.40" fill="#0d0d0d" fill-opacity="0.85" filter="url(#b2)"/>
<rect x="562.00" y="288.20" width="21.50" height="9.60" rx="4.80" fill="#0d0d0d" fill-opacity="0.9" filter="url(#b2)"/>
<rect x="584.00" y="288.00" width="19.50" height="9.30" rx="4.65" fill="#0d0d0d" fill-opacity="0.9" filter="url(#b2)"/>
<text x="508.00" y="204.30" font-size="11" text-anchor="end" fill="#1a1a1a" >Bcl2</text>
<text x="508.00" y="237.10" font-size="11" text-anchor="end" fill="#1a1a1a" >Bim</text>
<text x="508.00" y="275.40" font-size="11" text-anchor="end" fill="#1a1a1a" >BAX</text>
<text x="508.00" y="297.30" font-size="11" text-anchor="end" fill="#1a1a1a" >β-Actin</text>
<line x1="606.30" y1="200.20" x2="610.30" y2="200.20" stroke="#1a1a1a" stroke-width="1.1" />
<text x="611.60" y="203.80" font-size="10" text-anchor="start" fill="#1a1a1a" >25</text>
<line x1="606.30" y1="224.30" x2="610.30" y2="224.30" stroke="#1a1a1a" stroke-width="1.1" />
<text x="611.60" y="227.90" font-size="10" text-anchor="start" fill="#1a1a1a" >23</text>
<line x1="606.30" y1="243.00" x2="610.30" y2="243.00" stroke="#1a1a1a" stroke-width="1.1" />
<text x="611.60" y="246.30" font-size="10" text-anchor="start" fill="#1a1a1a" >15</text>
<line x1="606.30" y1="251.90" x2="610.30" y2="251.90" stroke="#1a1a1a" stroke-width="1.1" />
<text x="611.60" y="255.50" font-size="10" text-anchor="start" fill="#1a1a1a" >12</text>
<line x1="606.30" y1="270.50" x2="610.30" y2="270.50" stroke="#1a1a1a" stroke-width="1.1" />
<text x="611.60" y="274.10" font-size="10" text-anchor="start" fill="#1a1a1a" >20</text>
<line x1="606.30" y1="300.40" x2="610.30" y2="300.40" stroke="#1a1a1a" stroke-width="1.1" />
<text x="611.60" y="304.00" font-size="10" text-anchor="start" fill="#1a1a1a" >35</text>
<text x="563.30" y="315.60" font-size="11" text-anchor="middle" fill="#1a1a1a" >PC9/GR</text>
<text transform="translate(49.80,369.50) rotate(-45)" font-size="11.6" text-anchor="start" fill="#1a1a1a" >Vector</text>
<text transform="translate(75.20,369.30) rotate(-45)" font-size="11.6" text-anchor="start" fill="#1a1a1a" >NNMT</text>
<text transform="translate(98.60,369.20) rotate(-45)" font-size="11.6" text-anchor="start" fill="#1a1a1a" >Vector</text>
<text transform="translate(124.80,369.00) rotate(-45)" font-size="11.6" text-anchor="start" fill="#1a1a1a" >NNMT</text>
<text x="141.30" y="369.90" font-size="9.9" text-anchor="start" fill="#1a1a1a" >kDa</text>
<rect x="42.90" y="371.10" width="98.40" height="42.10" fill="#c4c4c4" stroke="#2a2a2a" stroke-width="1.3"/>
<rect x="42.50" y="416.20" width="98.40" height="42.50" fill="#c4c4c4" stroke="#2a2a2a" stroke-width="1.3"/>
<rect x="47.30" y="392.80" width="15.40" height="3.60" rx="1.80" fill="#0d0d0d" fill-opacity="0.75" filter="url(#b1)"/>
<rect x="70.00" y="388.70" width="16.70" height="7.50" rx="3.00" fill="#0d0d0d" fill-opacity="1.0" filter="url(#b1)"/>
<rect x="92.50" y="392.20" width="15.20" height="3.10" rx="1.55" fill="#0d0d0d" fill-opacity="0.85" filter="url(#b1)"/>
<rect x="112.60" y="388.50" width="22.60" height="7.70" rx="3.00" fill="#0d0d0d" fill-opacity="1.0" filter="url(#b1)"/>
<rect x="47.30" y="436.30" width="17.50" height="4.60" rx="2.30" fill="#0d0d0d" fill-opacity="1.0" filter="url(#b1)"/>
<rect x="70.00" y="435.50" width="17.20" height="4.60" rx="2.30" fill="#0d0d0d" fill-opacity="1.0" filter="url(#b1)"/>
<rect x="92.00" y="434.60" width="17.50" height="4.40" rx="2.20" fill="#0d0d0d" fill-opacity="1.0" filter="url(#b1)"/>
<rect x="113.00" y="433.80" width="23.10" height="4.90" rx="2.45" fill="#0d0d0d" fill-opacity="1.0" filter="url(#b1)"/>
<text x="35.00" y="399.70" font-size="11" text-anchor="end" fill="#1a1a1a" >NNMT</text>
<text x="35.00" y="438.80" font-size="11" text-anchor="end" fill="#1a1a1a" >β-Actin</text>
<line x1="141.30" y1="397.50" x2="145.30" y2="397.50" stroke="#1a1a1a" stroke-width="1.1" />
<text x="146.60" y="401.10" font-size="10" text-anchor="start" fill="#1a1a1a" >25</text>
<line x1="141.30" y1="443.20" x2="145.30" y2="443.20" stroke="#1a1a1a" stroke-width="1.1" />
<text x="146.60" y="446.80" font-size="10" text-anchor="start" fill="#1a1a1a" >35</text>
<line x1="43.80" y1="461.70" x2="86.30" y2="461.70" stroke="#666" stroke-width="1.3" />
<line x1="93.70" y1="461.70" x2="136.60" y2="461.70" stroke="#666" stroke-width="1.3" />
<text x="69.20" y="473.70" font-size="11" text-anchor="middle" fill="#1a1a1a" >PC9</text>
<text x="115.00" y="473.70" font-size="11" text-anchor="middle" fill="#1a1a1a" >HCC827</text>
<line x1="203.40" y1="446.15" x2="203.40" y2="344.35" stroke="#222" stroke-width="1.3" />
<line x1="199.40" y1="445.50" x2="203.40" y2="445.50" stroke="#222" stroke-width="1.1700000000000002" />
<text x="198.10" y="449.20" font-size="11" text-anchor="end" fill="#1a1a1a" >0</text>
<line x1="199.40" y1="428.75" x2="203.40" y2="428.75" stroke="#222" stroke-width="1.1700000000000002" />
<text x="198.10" y="432.45" font-size="11" text-anchor="end" fill="#1a1a1a" >20</text>
<line x1="199.40" y1="412.00" x2="203.40" y2="412.00" stroke="#222" stroke-width="1.1700000000000002" />
<text x="198.10" y="415.70" font-size="11" text-anchor="end" fill="#1a1a1a" >40</text>
<line x1="199.40" y1="395.25" x2="203.40" y2="395.25" stroke="#222" stroke-width="1.1700000000000002" />
<text x="198.10" y="398.95" font-size="11" text-anchor="end" fill="#1a1a1a" >60</text>
<line x1="199.40" y1="378.50" x2="203.40" y2="378.50" stroke="#222" stroke-width="1.1700000000000002" />
<text x="198.10" y="382.20" font-size="11" text-anchor="end" fill="#1a1a1a" >80</text>
<line x1="199.40" y1="361.75" x2="203.40" y2="361.75" stroke="#222" stroke-width="1.1700000000000002" />
<text x="198.10" y="365.45" font-size="11" text-anchor="end" fill="#1a1a1a" >100</text>
<line x1="199.40" y1="345.00" x2="203.40" y2="345.00" stroke="#222" stroke-width="1.1700000000000002" />
<text x="198.10" y="348.70" font-size="11" text-anchor="end" fill="#1a1a1a" >120</text>
<line x1="203.40" y1="445.50" x2="313.40" y2="445.50" stroke="#222" stroke-width="1.3" />
<line x1="203.40" y1="445.50" x2="203.40" y2="449.20" stroke="#222" stroke-width="1.1700000000000002" />
<text x="203.40" y="460.20" font-size="11" text-anchor="middle" fill="#1a1a1a" >0.001</text>
<line x1="230.75" y1="445.50" x2="230.75" y2="449.20" stroke="#222" stroke-width="1.1700000000000002" />
<text x="230.75" y="460.20" font-size="11" text-anchor="middle" fill="#1a1a1a" >0.01</text>
<line x1="258.10" y1="445.50" x2="258.10" y2="449.20" stroke="#222" stroke-width="1.1700000000000002" />
<text x="258.10" y="460.20" font-size="11" text-anchor="middle" fill="#1a1a1a" >0.1</text>
<line x1="285.45" y1="445.50" x2="285.45" y2="449.20" stroke="#222" stroke-width="1.1700000000000002" />
<text x="285.45" y="460.20" font-size="11" text-anchor="middle" fill="#1a1a1a" >1</text>
<line x1="312.80" y1="445.50" x2="312.80" y2="449.20" stroke="#222" stroke-width="1.1700000000000002" />
<text x="312.80" y="460.20" font-size="11" text-anchor="middle" fill="#1a1a1a" >10</text>
<text x="235.60" y="337.20" font-size="11" text-anchor="middle" fill="#1a1a1a" >PC9</text>
<text x="258.60" y="477.20" font-size="11" text-anchor="middle" fill="#1a1a1a" >Gefitinib (<tspan dx="1.6">μM</tspan><tspan dx="1.3">)</tspan></text>
<text transform="translate(174.30,392.50) rotate(-90)" font-size="11" text-anchor="middle" fill="#1a1a1a" >Cell viability (%)</text>
<line x1="203.40" y1="375.57" x2="203.40" y2="362.17" stroke="#8080ff" stroke-width="1.0" />
<line x1="200.90" y1="362.17" x2="205.90" y2="362.17" stroke="#8080ff" stroke-width="1.0" />
<line x1="200.90" y1="375.57" x2="205.90" y2="375.57" stroke="#8080ff" stroke-width="1.0" />
<line x1="230.75" y1="392.74" x2="230.75" y2="375.99" stroke="#8080ff" stroke-width="1.0" />
<line x1="228.25" y1="375.99" x2="233.25" y2="375.99" stroke="#8080ff" stroke-width="1.0" />
<line x1="228.25" y1="392.74" x2="233.25" y2="392.74" stroke="#8080ff" stroke-width="1.0" />
<line x1="244.43" y1="406.72" x2="244.43" y2="388.30" stroke="#8080ff" stroke-width="1.0" />
<line x1="241.93" y1="388.30" x2="246.93" y2="388.30" stroke="#8080ff" stroke-width="1.0" />
<line x1="241.93" y1="406.72" x2="246.93" y2="406.72" stroke="#8080ff" stroke-width="1.0" />
<line x1="258.10" y1="411.92" x2="258.10" y2="403.54" stroke="#8080ff" stroke-width="1.0" />
<line x1="255.60" y1="403.54" x2="260.60" y2="403.54" stroke="#8080ff" stroke-width="1.0" />
<line x1="255.60" y1="411.92" x2="260.60" y2="411.92" stroke="#8080ff" stroke-width="1.0" />
<line x1="271.77" y1="420.79" x2="271.77" y2="410.74" stroke="#8080ff" stroke-width="1.0" />
<line x1="269.27" y1="410.74" x2="274.27" y2="410.74" stroke="#8080ff" stroke-width="1.0" />
<line x1="269.27" y1="420.79" x2="274.27" y2="420.79" stroke="#8080ff" stroke-width="1.0" />
<line x1="285.45" y1="426.91" x2="285.45" y2="416.86" stroke="#8080ff" stroke-width="1.0" />
<line x1="282.95" y1="416.86" x2="287.95" y2="416.86" stroke="#8080ff" stroke-width="1.0" />
<line x1="282.95" y1="426.91" x2="287.95" y2="426.91" stroke="#8080ff" stroke-width="1.0" />
<line x1="299.12" y1="434.70" x2="299.12" y2="421.30" stroke="#8080ff" stroke-width="1.0" />
<line x1="296.62" y1="421.30" x2="301.62" y2="421.30" stroke="#8080ff" stroke-width="1.0" />
<line x1="296.62" y1="434.70" x2="301.62" y2="434.70" stroke="#8080ff" stroke-width="1.0" />
<line x1="312.80" y1="436.62" x2="312.80" y2="426.57" stroke="#8080ff" stroke-width="1.0" />
<line x1="310.30" y1="426.57" x2="315.30" y2="426.57" stroke="#8080ff" stroke-width="1.0" />
<line x1="310.30" y1="436.62" x2="315.30" y2="436.62" stroke="#8080ff" stroke-width="1.0" />
<line x1="203.40" y1="373.06" x2="203.40" y2="364.68" stroke="#ff8080" stroke-width="1.0" />
<line x1="200.90" y1="364.68" x2="205.90" y2="364.68" stroke="#ff8080" stroke-width="1.0" />
<line x1="200.90" y1="373.06" x2="205.90" y2="373.06" stroke="#ff8080" stroke-width="1.0" />
<line x1="230.75" y1="378.92" x2="230.75" y2="368.87" stroke="#ff8080" stroke-width="1.0" />
<line x1="228.25" y1="368.87" x2="233.25" y2="368.87" stroke="#ff8080" stroke-width="1.0" />
<line x1="228.25" y1="378.92" x2="233.25" y2="378.92" stroke="#ff8080" stroke-width="1.0" />
<line x1="244.43" y1="383.61" x2="244.43" y2="373.56" stroke="#ff8080" stroke-width="1.0" />
<line x1="241.93" y1="373.56" x2="246.93" y2="373.56" stroke="#ff8080" stroke-width="1.0" />
<line x1="241.93" y1="383.61" x2="246.93" y2="383.61" stroke="#ff8080" stroke-width="1.0" />
<line x1="258.10" y1="391.65" x2="258.10" y2="379.92" stroke="#ff8080" stroke-width="1.0" />
<line x1="255.60" y1="379.92" x2="260.60" y2="379.92" stroke="#ff8080" stroke-width="1.0" />
<line x1="255.60" y1="391.65" x2="260.60" y2="391.65" stroke="#ff8080" stroke-width="1.0" />
<line x1="271.77" y1="395.84" x2="271.77" y2="385.79" stroke="#ff8080" stroke-width="1.0" />
<line x1="269.27" y1="385.79" x2="274.27" y2="385.79" stroke="#ff8080" stroke-width="1.0" />
<line x1="269.27" y1="395.84" x2="274.27" y2="395.84" stroke="#ff8080" stroke-width="1.0" />
<line x1="285.45" y1="409.99" x2="285.45" y2="391.56" stroke="#ff8080" stroke-width="1.0" />
<line x1="282.95" y1="391.56" x2="287.95" y2="391.56" stroke="#ff8080" stroke-width="1.0" />
<line x1="282.95" y1="409.99" x2="287.95" y2="409.99" stroke="#ff8080" stroke-width="1.0" />
<line x1="299.12" y1="417.19" x2="299.12" y2="403.79" stroke="#ff8080" stroke-width="1.0" />
<line x1="296.62" y1="403.79" x2="301.62" y2="403.79" stroke="#ff8080" stroke-width="1.0" />
<line x1="296.62" y1="417.19" x2="301.62" y2="417.19" stroke="#ff8080" stroke-width="1.0" />
<line x1="312.80" y1="428.83" x2="312.80" y2="412.08" stroke="#ff8080" stroke-width="1.0" />
<line x1="310.30" y1="412.08" x2="315.30" y2="412.08" stroke="#ff8080" stroke-width="1.0" />
<line x1="310.30" y1="428.83" x2="315.30" y2="428.83" stroke="#ff8080" stroke-width="1.0" />
<polyline points="203.40,368.87 230.75,373.89 244.43,378.58 258.10,385.79 271.77,390.81 285.45,400.78 299.12,410.49 312.80,420.46" fill="none" stroke="#ff0000" stroke-width="1.2"/>
<rect x="201.00" y="366.47" width="4.80" height="4.80" fill="#ff0000" />
<rect x="228.35" y="371.49" width="4.80" height="4.80" fill="#ff0000" />
<rect x="242.03" y="376.18" width="4.80" height="4.80" fill="#ff0000" />
<rect x="255.70" y="383.39" width="4.80" height="4.80" fill="#ff0000" />
<rect x="269.38" y="388.41" width="4.80" height="4.80" fill="#ff0000" />
<rect x="283.05" y="398.38" width="4.80" height="4.80" fill="#ff0000" />
<rect x="296.73" y="408.09" width="4.80" height="4.80" fill="#ff0000" />
<rect x="310.40" y="418.06" width="4.80" height="4.80" fill="#ff0000" />
<polyline points="203.40,368.87 230.75,384.36 244.43,397.51 258.10,407.73 271.77,415.77 285.45,421.88 299.12,428.00 312.80,431.60" fill="none" stroke="#0000ff" stroke-width="1.2"/>
<circle cx="203.40" cy="368.87" r="2.45" fill="#0000ff"/>
<circle cx="230.75" cy="384.36" r="2.45" fill="#0000ff"/>
<circle cx="244.43" cy="397.51" r="2.45" fill="#0000ff"/>
<circle cx="258.10" cy="407.73" r="2.45" fill="#0000ff"/>
<circle cx="271.77" cy="415.77" r="2.45" fill="#0000ff"/>
<circle cx="285.45" cy="421.88" r="2.45" fill="#0000ff"/>
<circle cx="299.12" cy="428.00" r="2.45" fill="#0000ff"/>
<circle cx="312.80" cy="431.60" r="2.45" fill="#0000ff"/>
<line x1="255.20" y1="344.90" x2="265.80" y2="344.90" stroke="#0000ff" stroke-width="1.2" />
<circle cx="260.50" cy="344.90" r="2.08" fill="#0000ff"/>
<text x="272.40" y="348.20" font-size="11" text-anchor="start" fill="#1a1a1a" >Vector</text>
<line x1="255.20" y1="358.40" x2="265.80" y2="358.40" stroke="#ff0000" stroke-width="1.2" />
<rect x="258.46" y="356.36" width="4.08" height="4.08" fill="#ff0000" />
<text x="272.40" y="361.70" font-size="11" text-anchor="start" fill="#1a1a1a" >NNMT</text>
<line x1="311.30" y1="343.20" x2="311.30" y2="360.50" stroke="#333" stroke-width="1.3" />
<text x="316.80" y="358.00" font-size="11" text-anchor="middle" fill="#1a1a1a" >*</text>
<line x1="370.90" y1="446.15" x2="370.90" y2="344.17" stroke="#222" stroke-width="1.3" />
<line x1="366.90" y1="445.50" x2="370.90" y2="445.50" stroke="#222" stroke-width="1.1700000000000002" />
<text x="365.60" y="449.20" font-size="11" text-anchor="end" fill="#1a1a1a" >0</text>
<line x1="366.90" y1="428.72" x2="370.90" y2="428.72" stroke="#222" stroke-width="1.1700000000000002" />
<text x="365.60" y="432.42" font-size="11" text-anchor="end" fill="#1a1a1a" >20</text>
<line x1="366.90" y1="411.94" x2="370.90" y2="411.94" stroke="#222" stroke-width="1.1700000000000002" />
<text x="365.60" y="415.64" font-size="11" text-anchor="end" fill="#1a1a1a" >40</text>
<line x1="366.90" y1="395.16" x2="370.90" y2="395.16" stroke="#222" stroke-width="1.1700000000000002" />
<text x="365.60" y="398.86" font-size="11" text-anchor="end" fill="#1a1a1a" >60</text>
<line x1="366.90" y1="378.38" x2="370.90" y2="378.38" stroke="#222" stroke-width="1.1700000000000002" />
<text x="365.60" y="382.08" font-size="11" text-anchor="end" fill="#1a1a1a" >80</text>
<line x1="366.90" y1="361.60" x2="370.90" y2="361.60" stroke="#222" stroke-width="1.1700000000000002" />
<text x="365.60" y="365.30" font-size="11" text-anchor="end" fill="#1a1a1a" >100</text>
<line x1="366.90" y1="344.82" x2="370.90" y2="344.82" stroke="#222" stroke-width="1.1700000000000002" />
<text x="365.60" y="348.52" font-size="11" text-anchor="end" fill="#1a1a1a" >120</text>
<line x1="370.90" y1="445.50" x2="480.90" y2="445.50" stroke="#222" stroke-width="1.3" />
<line x1="370.90" y1="445.50" x2="370.90" y2="449.20" stroke="#222" stroke-width="1.1700000000000002" />
<text x="370.90" y="460.20" font-size="11" text-anchor="middle" fill="#1a1a1a" >0.001</text>
<line x1="398.25" y1="445.50" x2="398.25" y2="449.20" stroke="#222" stroke-width="1.1700000000000002" />
<text x="398.25" y="460.20" font-size="11" text-anchor="middle" fill="#1a1a1a" >0.01</text>
<line x1="425.60" y1="445.50" x2="425.60" y2="449.20" stroke="#222" stroke-width="1.1700000000000002" />
<text x="425.60" y="460.20" font-size="11" text-anchor="middle" fill="#1a1a1a" >0.1</text>
<line x1="452.95" y1="445.50" x2="452.95" y2="449.20" stroke="#222" stroke-width="1.1700000000000002" />
<text x="452.95" y="460.20" font-size="11" text-anchor="middle" fill="#1a1a1a" >1</text>
<line x1="480.30" y1="445.50" x2="480.30" y2="449.20" stroke="#222" stroke-width="1.1700000000000002" />
<text x="480.30" y="460.20" font-size="11" text-anchor="middle" fill="#1a1a1a" >10</text>
<text x="411.70" y="337.50" font-size="11" text-anchor="middle" fill="#1a1a1a" >HCC827</text>
<text x="426.20" y="477.20" font-size="11" text-anchor="middle" fill="#1a1a1a" >Gefitinib (<tspan dx="1.6">μM</tspan><tspan dx="1.3">)</tspan></text>
<text transform="translate(342.20,392.50) rotate(-90)" font-size="11" text-anchor="middle" fill="#1a1a1a" >Cell viability (%)</text>
<line x1="370.90" y1="372.00" x2="370.90" y2="360.26" stroke="#8080ff" stroke-width="1.0" />
<line x1="368.40" y1="360.26" x2="373.40" y2="360.26" stroke="#8080ff" stroke-width="1.0" />
<line x1="368.40" y1="372.00" x2="373.40" y2="372.00" stroke="#8080ff" stroke-width="1.0" />
<line x1="398.25" y1="388.62" x2="398.25" y2="378.55" stroke="#8080ff" stroke-width="1.0" />
<line x1="395.75" y1="378.55" x2="400.75" y2="378.55" stroke="#8080ff" stroke-width="1.0" />
<line x1="395.75" y1="388.62" x2="400.75" y2="388.62" stroke="#8080ff" stroke-width="1.0" />
<line x1="411.92" y1="403.80" x2="411.92" y2="390.38" stroke="#8080ff" stroke-width="1.0" />
<line x1="409.42" y1="390.38" x2="414.42" y2="390.38" stroke="#8080ff" stroke-width="1.0" />
<line x1="409.42" y1="403.80" x2="414.42" y2="403.80" stroke="#8080ff" stroke-width="1.0" />
<line x1="425.60" y1="410.35" x2="425.60" y2="403.63" stroke="#8080ff" stroke-width="1.0" />
<line x1="423.10" y1="403.63" x2="428.10" y2="403.63" stroke="#8080ff" stroke-width="1.0" />
<line x1="423.10" y1="410.35" x2="428.10" y2="410.35" stroke="#8080ff" stroke-width="1.0" />
<line x1="439.27" y1="421.42" x2="439.27" y2="411.35" stroke="#8080ff" stroke-width="1.0" />
<line x1="436.77" y1="411.35" x2="441.77" y2="411.35" stroke="#8080ff" stroke-width="1.0" />
<line x1="436.77" y1="421.42" x2="441.77" y2="421.42" stroke="#8080ff" stroke-width="1.0" />
<line x1="452.95" y1="428.72" x2="452.95" y2="416.97" stroke="#8080ff" stroke-width="1.0" />
<line x1="450.45" y1="416.97" x2="455.45" y2="416.97" stroke="#8080ff" stroke-width="1.0" />
<line x1="450.45" y1="428.72" x2="455.45" y2="428.72" stroke="#8080ff" stroke-width="1.0" />
<line x1="466.62" y1="434.76" x2="466.62" y2="421.34" stroke="#8080ff" stroke-width="1.0" />
<line x1="464.12" y1="421.34" x2="469.12" y2="421.34" stroke="#8080ff" stroke-width="1.0" />
<line x1="464.12" y1="434.76" x2="469.12" y2="434.76" stroke="#8080ff" stroke-width="1.0" />
<line x1="480.30" y1="436.02" x2="480.30" y2="425.95" stroke="#8080ff" stroke-width="1.0" />
<line x1="477.80" y1="425.95" x2="482.80" y2="425.95" stroke="#8080ff" stroke-width="1.0" />
<line x1="477.80" y1="436.02" x2="482.80" y2="436.02" stroke="#8080ff" stroke-width="1.0" />
<line x1="370.90" y1="373.01" x2="370.90" y2="366.30" stroke="#ff8080" stroke-width="1.0" />
<line x1="368.40" y1="366.30" x2="373.40" y2="366.30" stroke="#ff8080" stroke-width="1.0" />
<line x1="368.40" y1="373.01" x2="373.40" y2="373.01" stroke="#ff8080" stroke-width="1.0" />
<line x1="398.25" y1="378.13" x2="398.25" y2="368.06" stroke="#ff8080" stroke-width="1.0" />
<line x1="395.75" y1="368.06" x2="400.75" y2="368.06" stroke="#ff8080" stroke-width="1.0" />
<line x1="395.75" y1="378.13" x2="400.75" y2="378.13" stroke="#ff8080" stroke-width="1.0" />
<line x1="411.92" y1="386.27" x2="411.92" y2="374.52" stroke="#ff8080" stroke-width="1.0" />
<line x1="409.42" y1="374.52" x2="414.42" y2="374.52" stroke="#ff8080" stroke-width="1.0" />
<line x1="409.42" y1="386.27" x2="414.42" y2="386.27" stroke="#ff8080" stroke-width="1.0" />
<line x1="425.60" y1="392.22" x2="425.60" y2="380.48" stroke="#ff8080" stroke-width="1.0" />
<line x1="423.10" y1="380.48" x2="428.10" y2="380.48" stroke="#ff8080" stroke-width="1.0" />
<line x1="423.10" y1="392.22" x2="428.10" y2="392.22" stroke="#ff8080" stroke-width="1.0" />
<line x1="439.27" y1="400.36" x2="439.27" y2="390.29" stroke="#ff8080" stroke-width="1.0" />
<line x1="436.77" y1="390.29" x2="441.77" y2="390.29" stroke="#ff8080" stroke-width="1.0" />
<line x1="436.77" y1="400.36" x2="441.77" y2="400.36" stroke="#ff8080" stroke-width="1.0" />
<line x1="452.95" y1="413.79" x2="452.95" y2="405.40" stroke="#ff8080" stroke-width="1.0" />
<line x1="450.45" y1="405.40" x2="455.45" y2="405.40" stroke="#ff8080" stroke-width="1.0" />
<line x1="450.45" y1="413.79" x2="455.45" y2="413.79" stroke="#ff8080" stroke-width="1.0" />
<line x1="466.62" y1="421.42" x2="466.62" y2="411.35" stroke="#ff8080" stroke-width="1.0" />
<line x1="464.12" y1="411.35" x2="469.12" y2="411.35" stroke="#ff8080" stroke-width="1.0" />
<line x1="464.12" y1="421.42" x2="469.12" y2="421.42" stroke="#ff8080" stroke-width="1.0" />
<line x1="480.30" y1="429.22" x2="480.30" y2="419.16" stroke="#ff8080" stroke-width="1.0" />
<line x1="477.80" y1="419.16" x2="482.80" y2="419.16" stroke="#ff8080" stroke-width="1.0" />
<line x1="477.80" y1="429.22" x2="482.80" y2="429.22" stroke="#ff8080" stroke-width="1.0" />
<polyline points="370.90,369.65 398.25,373.09 411.92,380.39 425.60,386.35 439.27,395.33 452.95,409.59 466.62,416.39 480.30,424.19" fill="none" stroke="#ff0000" stroke-width="1.2"/>
<rect x="368.50" y="367.25" width="4.80" height="4.80" fill="#ff0000" />
<rect x="395.85" y="370.69" width="4.80" height="4.80" fill="#ff0000" />
<rect x="409.52" y="377.99" width="4.80" height="4.80" fill="#ff0000" />
<rect x="423.20" y="383.95" width="4.80" height="4.80" fill="#ff0000" />
<rect x="436.88" y="392.93" width="4.80" height="4.80" fill="#ff0000" />
<rect x="450.55" y="407.19" width="4.80" height="4.80" fill="#ff0000" />
<rect x="464.23" y="413.99" width="4.80" height="4.80" fill="#ff0000" />
<rect x="477.90" y="421.79" width="4.80" height="4.80" fill="#ff0000" />
<polyline points="370.90,366.13 398.25,383.58 411.92,397.09 425.60,406.99 439.27,416.39 452.95,422.85 466.62,428.05 480.30,430.99" fill="none" stroke="#0000ff" stroke-width="1.2"/>
<circle cx="370.90" cy="366.13" r="2.45" fill="#0000ff"/>
<circle cx="398.25" cy="383.58" r="2.45" fill="#0000ff"/>
<circle cx="411.92" cy="397.09" r="2.45" fill="#0000ff"/>
<circle cx="425.60" cy="406.99" r="2.45" fill="#0000ff"/>
<circle cx="439.27" cy="416.39" r="2.45" fill="#0000ff"/>
<circle cx="452.95" cy="422.85" r="2.45" fill="#0000ff"/>
<circle cx="466.62" cy="428.05" r="2.45" fill="#0000ff"/>
<circle cx="480.30" cy="430.99" r="2.45" fill="#0000ff"/>
<line x1="436.00" y1="342.90" x2="446.60" y2="342.90" stroke="#0000ff" stroke-width="1.2" />
<circle cx="441.30" cy="342.90" r="2.08" fill="#0000ff"/>
<text x="453.00" y="346.20" font-size="11" text-anchor="start" fill="#1a1a1a" >Vector</text>
<line x1="436.00" y1="356.40" x2="446.60" y2="356.40" stroke="#ff0000" stroke-width="1.2" />
<rect x="439.26" y="354.36" width="4.08" height="4.08" fill="#ff0000" />
<text x="453.00" y="359.70" font-size="11" text-anchor="start" fill="#1a1a1a" >NNMT</text>
<line x1="492.50" y1="341.40" x2="492.50" y2="358.90" stroke="#333" stroke-width="1.3" />
<text x="497.50" y="356.20" font-size="11" text-anchor="middle" fill="#1a1a1a" >*</text>
<line x1="576.30" y1="422.19" x2="576.30" y2="415.32" stroke="#6a6aff" stroke-width="1.1" />
<line x1="572.30" y1="415.32" x2="580.30" y2="415.32" stroke="#6a6aff" stroke-width="1.1" />
<rect x="568.70" y="422.19" width="15.20" height="21.21" fill="#0000ff" />
<line x1="599.55" y1="421.38" x2="599.55" y2="414.31" stroke="#ff6a6a" stroke-width="1.1" />
<line x1="595.55" y1="414.31" x2="603.55" y2="414.31" stroke="#ff6a6a" stroke-width="1.1" />
<rect x="591.90" y="421.38" width="15.30" height="22.02" fill="#ff0000" />
<line x1="622.70" y1="363.21" x2="622.70" y2="356.14" stroke="#60e860" stroke-width="1.1" />
<line x1="618.70" y1="356.14" x2="626.70" y2="356.14" stroke="#60e860" stroke-width="1.1" />
<rect x="614.90" y="363.21" width="15.60" height="80.19" fill="#00e000" />
<line x1="645.90" y1="388.25" x2="645.90" y2="382.40" stroke="#e870ff" stroke-width="1.1" />
<line x1="641.90" y1="382.40" x2="649.90" y2="382.40" stroke="#e870ff" stroke-width="1.1" />
<rect x="638.00" y="388.25" width="15.80" height="55.15" fill="#dd00ff" />
<line x1="560.60" y1="444.00" x2="560.60" y2="341.80" stroke="#222" stroke-width="1.2" />
<line x1="556.60" y1="443.40" x2="560.60" y2="443.40" stroke="#222" stroke-width="1.2" />
<text x="555.30" y="447.20" font-size="11" text-anchor="end" fill="#1a1a1a" >0</text>
<line x1="556.60" y1="423.20" x2="560.60" y2="423.20" stroke="#222" stroke-width="1.2" />
<text x="555.30" y="427.00" font-size="11" text-anchor="end" fill="#1a1a1a" >10</text>
<line x1="556.60" y1="403.00" x2="560.60" y2="403.00" stroke="#222" stroke-width="1.2" />
<text x="555.30" y="406.80" font-size="11" text-anchor="end" fill="#1a1a1a" >20</text>
<line x1="556.60" y1="382.80" x2="560.60" y2="382.80" stroke="#222" stroke-width="1.2" />
<text x="555.30" y="386.60" font-size="11" text-anchor="end" fill="#1a1a1a" >30</text>
<line x1="556.60" y1="362.60" x2="560.60" y2="362.60" stroke="#222" stroke-width="1.2" />
<text x="555.30" y="366.40" font-size="11" text-anchor="end" fill="#1a1a1a" >40</text>
<line x1="556.60" y1="342.40" x2="560.60" y2="342.40" stroke="#222" stroke-width="1.2" />
<text x="555.30" y="346.20" font-size="11" text-anchor="end" fill="#1a1a1a" >50</text>
<line x1="560.60" y1="443.40" x2="661.80" y2="443.40" stroke="#222" stroke-width="1.2" />
<line x1="576.30" y1="443.40" x2="576.30" y2="447.10" stroke="#222" stroke-width="1.2" />
<line x1="599.55" y1="443.40" x2="599.55" y2="447.10" stroke="#222" stroke-width="1.2" />
<line x1="622.70" y1="443.40" x2="622.70" y2="447.10" stroke="#222" stroke-width="1.2" />
<line x1="645.90" y1="443.40" x2="645.90" y2="447.10" stroke="#222" stroke-width="1.2" />
<text transform="translate(536.80,390.20) rotate(-90)" font-size="11" text-anchor="middle" fill="#1a1a1a" >Cell apoptosis (%)</text>
<text x="611.40" y="337.00" font-size="11" text-anchor="middle" fill="#1a1a1a" >PC9</text>
<line x1="622.00" y1="348.40" x2="645.20" y2="348.40" stroke="#555" stroke-width="1.3" />
<text x="633.90" y="349.95" font-size="11" text-anchor="middle" fill="#1a1a1a" >**</text>
<text transform="translate(579.40,457.10) rotate(-45)" font-size="11.4" text-anchor="end" fill="#1a1a1a" >Vector</text>
<text transform="translate(602.50,457.10) rotate(-45)" font-size="11.4" text-anchor="end" fill="#1a1a1a" >NNMT</text>
<text transform="translate(625.60,457.10) rotate(-45)" font-size="11.4" text-anchor="end" fill="#1a1a1a" >Vector</text>
<text transform="translate(649.50,457.10) rotate(-45)" font-size="11.4" text-anchor="end" fill="#1a1a1a" >NNMT</text>
<line x1="560.80" y1="483.40" x2="601.30" y2="483.40" stroke="#555" stroke-width="1.3" />
<line x1="609.40" y1="483.40" x2="654.70" y2="483.40" stroke="#555" stroke-width="1.3" />
<text x="583.10" y="495.30" font-size="11" text-anchor="middle" fill="#1a1a1a" >DMSO</text>
<text x="632.00" y="495.30" font-size="11" text-anchor="middle" fill="#1a1a1a" >Gefitinib</text>
<line x1="64.45" y1="613.83" x2="64.45" y2="610.39" stroke="#5a5aff" stroke-width="1.1" />
<line x1="60.45" y1="610.39" x2="68.45" y2="610.39" stroke="#5a5aff" stroke-width="1.1" />
<rect x="56.20" y="613.83" width="16.50" height="12.67" fill="#0000ff" />
<line x1="89.35" y1="613.83" x2="89.35" y2="611.12" stroke="#ff5a5a" stroke-width="1.1" />
<line x1="85.35" y1="611.12" x2="93.35" y2="611.12" stroke="#ff5a5a" stroke-width="1.1" />
<rect x="81.10" y="613.83" width="16.50" height="12.67" fill="#ff0000" />
<line x1="114.05" y1="556.02" x2="114.05" y2="546.18" stroke="#50d050" stroke-width="1.1" />
<line x1="110.05" y1="546.18" x2="118.05" y2="546.18" stroke="#50d050" stroke-width="1.1" />
<rect x="105.90" y="556.02" width="16.30" height="70.48" fill="#00c000" />
<line x1="138.70" y1="592.06" x2="138.70" y2="586.40" stroke="#dd88ff" stroke-width="1.1" />
<line x1="134.70" y1="586.40" x2="142.70" y2="586.40" stroke="#dd88ff" stroke-width="1.1" />
<rect x="130.50" y="592.06" width="16.40" height="34.44" fill="#aa00ee" />
<line x1="52.30" y1="627.10" x2="52.30" y2="527.50" stroke="#555" stroke-width="1.2" />
<line x1="48.30" y1="626.50" x2="52.30" y2="626.50" stroke="#555" stroke-width="1.2" />
<text x="47.00" y="630.30" font-size="11" text-anchor="end" fill="#1a1a1a" >0</text>
<line x1="48.30" y1="601.90" x2="52.30" y2="601.90" stroke="#555" stroke-width="1.2" />
<text x="47.00" y="605.70" font-size="11" text-anchor="end" fill="#1a1a1a" >2</text>
<line x1="48.30" y1="577.30" x2="52.30" y2="577.30" stroke="#555" stroke-width="1.2" />
<text x="47.00" y="581.10" font-size="11" text-anchor="end" fill="#1a1a1a" >4</text>
<line x1="48.30" y1="552.70" x2="52.30" y2="552.70" stroke="#555" stroke-width="1.2" />
<text x="47.00" y="556.50" font-size="11" text-anchor="end" fill="#1a1a1a" >6</text>
<line x1="48.30" y1="528.10" x2="52.30" y2="528.10" stroke="#555" stroke-width="1.2" />
<text x="47.00" y="531.90" font-size="11" text-anchor="end" fill="#1a1a1a" >8</text>
<line x1="52.30" y1="626.50" x2="151.20" y2="626.50" stroke="#555" stroke-width="1.2" />
<line x1="64.45" y1="626.50" x2="64.45" y2="630.20" stroke="#555" stroke-width="1.2" />
<line x1="89.35" y1="626.50" x2="89.35" y2="630.20" stroke="#555" stroke-width="1.2" />
<line x1="114.05" y1="626.50" x2="114.05" y2="630.20" stroke="#555" stroke-width="1.2" />
<line x1="138.70" y1="626.50" x2="138.70" y2="630.20" stroke="#555" stroke-width="1.2" />
<text transform="translate(21.00,575.20) rotate(-90)" font-size="11" text-anchor="middle" fill="#1a1a1a" >Relative caspase 3/7</text>
<text transform="translate(34.50,575.20) rotate(-90)" font-size="11" text-anchor="middle" fill="#1a1a1a" >activity</text>
<text x="101.80" y="519.60" font-size="11" text-anchor="middle" fill="#1a1a1a" >PC9</text>
<line x1="114.10" y1="539.20" x2="137.00" y2="539.20" stroke="#222" stroke-width="1.3" />
<text x="125.60" y="539.45" font-size="11" text-anchor="middle" fill="#1a1a1a" >**</text>
<text transform="translate(67.20,640.40) rotate(-45)" font-size="11.4" text-anchor="end" fill="#1a1a1a" >Vector</text>
<text transform="translate(92.40,640.40) rotate(-45)" font-size="11.4" text-anchor="end" fill="#1a1a1a" >NNMT</text>
<text transform="translate(117.10,640.40) rotate(-45)" font-size="11.4" text-anchor="end" fill="#1a1a1a" >Vector</text>
<text transform="translate(141.70,640.40) rotate(-45)" font-size="11.4" text-anchor="end" fill="#1a1a1a" >NNMT</text>
<line x1="50.90" y1="665.90" x2="93.60" y2="665.90" stroke="#555" stroke-width="1.4" />
<line x1="107.80" y1="665.90" x2="151.50" y2="665.90" stroke="#555" stroke-width="1.4" />
<text x="72.70" y="678.60" font-size="11" text-anchor="middle" fill="#1a1a1a" >DMSO</text>
<text x="129.40" y="678.60" font-size="11" text-anchor="middle" fill="#1a1a1a" >Gefitinib</text>
<text x="245.60" y="513.10" font-size="11" text-anchor="middle" fill="#1a1a1a" >DMSO</text>
<text x="306.60" y="513.10" font-size="11" text-anchor="middle" fill="#1a1a1a" >Gefitinib</text>
<line x1="228.80" y1="516.10" x2="271.70" y2="516.10" stroke="#777" stroke-width="1.75" />
<line x1="286.60" y1="516.10" x2="321.30" y2="516.10" stroke="#777" stroke-width="1.75" />
<text transform="translate(235.80,549.80) rotate(-45)" font-size="11.6" text-anchor="start" fill="#1a1a1a" >Vector</text>
<text transform="translate(258.80,549.00) rotate(-45)" font-size="11.6" text-anchor="start" fill="#1a1a1a" >NNMT</text>
<text transform="translate(282.60,550.10) rotate(-45)" font-size="11.6" text-anchor="start" fill="#1a1a1a" >Vector</text>
<text transform="translate(308.30,549.00) rotate(-45)" font-size="11.6" text-anchor="start" fill="#1a1a1a" >NNMT</text>
<text x="325.50" y="552.30" font-size="9.9" text-anchor="start" fill="#1a1a1a" >kDa</text>
<rect x="226.30" y="553.60" width="97.70" height="31.90" fill="#aaaaaa" stroke="#2a2a2a" stroke-width="1.3"/>
<rect x="226.30" y="588.70" width="97.70" height="45.60" fill="#a4a4a4" stroke="#3a3a3a" stroke-width="1.3"/>
<rect x="226.30" y="636.60" width="97.70" height="30.00" fill="#a8a8a8" stroke="#2a2a2a" stroke-width="1.3"/>
<rect x="229.10" y="569.30" width="18.50" height="5.20" rx="2.60" fill="#0d0d0d" fill-opacity="0.75" filter="url(#b2)"/>
<rect x="251.40" y="568.40" width="17.10" height="7.00" rx="3.50" fill="#0d0d0d" fill-opacity="0.9" filter="url(#b2)"/>
<rect x="274.70" y="570.70" width="16.60" height="2.40" rx="1.20" fill="#0d0d0d" fill-opacity="0.7" filter="url(#b1)"/>
<rect x="297.50" y="568.80" width="17.10" height="3.80" rx="1.90" fill="#0d0d0d" fill-opacity="0.95" filter="url(#b1)"/>
<rect x="228.60" y="595.40" width="18.00" height="11.40" rx="5.00" fill="#0d0d0d" fill-opacity="1.0" filter="url(#b2)"/>
<rect x="251.90" y="596.00" width="18.50" height="8.90" rx="4.00" fill="#0d0d0d" fill-opacity="1.0" filter="url(#b2)"/>
<rect x="273.20" y="595.40" width="20.00" height="9.60" rx="5.00" fill="#0d0d0d" fill-opacity="1.0" filter="url(#b2)"/>
<rect x="275.00" y="600.00" width="17.00" height="10.60" rx="4.00" fill="#0d0d0d" fill-opacity="1.0" filter="url(#b2)"/>
<rect x="296.00" y="594.00" width="28.00" height="13.70" rx="5.00" fill="#0d0d0d" fill-opacity="1.0" filter="url(#b2)"/>
<rect x="230.00" y="622.40" width="15.20" height="4.00" rx="2.00" fill="#0d0d0d" fill-opacity="0.9" filter="url(#b1)"/>
<rect x="255.00" y="622.80" width="14.00" height="3.20" rx="1.60" fill="#0d0d0d" fill-opacity="0.65" filter="url(#b1)"/>
<rect x="275.50" y="621.20" width="16.30" height="5.40" rx="2.70" fill="#0d0d0d" fill-opacity="1.0" filter="url(#b1)"/>
<rect x="299.50" y="619.50" width="16.50" height="3.40" rx="1.70" fill="#0d0d0d" fill-opacity="0.95" filter="url(#b1)"/>
<rect x="230.00" y="627.20" width="15.20" height="3.10" rx="1.55" fill="#0d0d0d" fill-opacity="0.85" filter="url(#b1)"/>
<rect x="255.00" y="627.30" width="14.00" height="3.00" rx="1.50" fill="#0d0d0d" fill-opacity="0.7" filter="url(#b1)"/>
<rect x="275.50" y="627.00" width="16.30" height="3.20" rx="1.60" fill="#0d0d0d" fill-opacity="0.85" filter="url(#b1)"/>
<rect x="300.00" y="626.60" width="15.00" height="1.80" rx="0.90" fill="#0d0d0d" fill-opacity="0.35" filter="url(#b1)"/>
<rect x="229.50" y="648.00" width="22.50" height="10.80" rx="5.00" fill="#0d0d0d" fill-opacity="1.0" filter="url(#b2)"/>
<rect x="252.00" y="649.00" width="23.00" height="9.30" rx="4.00" fill="#0d0d0d" fill-opacity="1.0" filter="url(#b2)"/>
<rect x="275.00" y="649.50" width="22.00" height="8.50" rx="4.00" fill="#0d0d0d" fill-opacity="1.0" filter="url(#b2)"/>
<rect x="297.00" y="648.80" width="27.50" height="9.00" rx="4.00" fill="#0d0d0d" fill-opacity="1.0" filter="url(#b2)"/>
<rect x="235.00" y="650.50" width="87.00" height="6.00" rx="2.00" fill="#0d0d0d" fill-opacity="1.0" filter="url(#b1)"/>
<text x="219.00" y="575.80" font-size="11" text-anchor="end" fill="#1a1a1a" >Bcl2</text>
<text x="219.00" y="613.70" font-size="11" text-anchor="end" fill="#1a1a1a" >Bim</text>
<text x="219.00" y="656.00" font-size="11" text-anchor="end" fill="#1a1a1a" >β-Actin</text>
<line x1="324.00" y1="571.00" x2="328.00" y2="571.00" stroke="#1a1a1a" stroke-width="1.1" />
<text x="329.30" y="574.60" font-size="10" text-anchor="start" fill="#1a1a1a" >25</text>
<line x1="324.00" y1="599.50" x2="328.00" y2="599.50" stroke="#1a1a1a" stroke-width="1.1" />
<text x="329.30" y="603.10" font-size="10" text-anchor="start" fill="#1a1a1a" >23</text>
<line x1="324.00" y1="621.10" x2="328.00" y2="621.10" stroke="#1a1a1a" stroke-width="1.1" />
<text x="329.30" y="623.00" font-size="10" text-anchor="start" fill="#1a1a1a" >15</text>
<line x1="324.00" y1="626.60" x2="328.00" y2="626.60" stroke="#1a1a1a" stroke-width="1.1" />
<text x="329.30" y="632.30" font-size="10" text-anchor="start" fill="#1a1a1a" >12</text>
<line x1="324.00" y1="663.20" x2="328.00" y2="663.20" stroke="#1a1a1a" stroke-width="1.1" />
<text x="329.30" y="666.80" font-size="10" text-anchor="start" fill="#1a1a1a" >35</text>
<line x1="229.10" y1="668.90" x2="319.20" y2="668.90" stroke="#777" stroke-width="1.2" />
<text x="273.60" y="679.80" font-size="11" text-anchor="middle" fill="#1a1a1a" >PC9</text>
<line x1="521.40" y1="505.00" x2="521.40" y2="659.00" stroke="#f5f5f5" stroke-width="1.0" />
<line x1="402.40" y1="630.35" x2="402.40" y2="531.15" stroke="#333" stroke-width="1.1" />
<line x1="398.40" y1="629.80" x2="402.40" y2="629.80" stroke="#333" stroke-width="0.9900000000000001" />
<text x="397.10" y="633.50" font-size="11" text-anchor="end" fill="#1a1a1a" >0</text>
<line x1="398.40" y1="613.45" x2="402.40" y2="613.45" stroke="#333" stroke-width="0.9900000000000001" />
<text x="397.10" y="617.15" font-size="11" text-anchor="end" fill="#1a1a1a" >20</text>
<line x1="398.40" y1="597.10" x2="402.40" y2="597.10" stroke="#333" stroke-width="0.9900000000000001" />
<text x="397.10" y="600.80" font-size="11" text-anchor="end" fill="#1a1a1a" >40</text>
<line x1="398.40" y1="580.75" x2="402.40" y2="580.75" stroke="#333" stroke-width="0.9900000000000001" />
<text x="397.10" y="584.45" font-size="11" text-anchor="end" fill="#1a1a1a" >60</text>
<line x1="398.40" y1="564.40" x2="402.40" y2="564.40" stroke="#333" stroke-width="0.9900000000000001" />
<text x="397.10" y="568.10" font-size="11" text-anchor="end" fill="#1a1a1a" >80</text>
<line x1="398.40" y1="548.05" x2="402.40" y2="548.05" stroke="#333" stroke-width="0.9900000000000001" />
<text x="397.10" y="551.75" font-size="11" text-anchor="end" fill="#1a1a1a" >100</text>
<line x1="398.40" y1="531.70" x2="402.40" y2="531.70" stroke="#333" stroke-width="0.9900000000000001" />
<text x="397.10" y="535.40" font-size="11" text-anchor="end" fill="#1a1a1a" >120</text>
<line x1="402.40" y1="629.80" x2="510.20" y2="629.80" stroke="#333" stroke-width="1.1" />
<line x1="402.40" y1="629.80" x2="402.40" y2="633.50" stroke="#333" stroke-width="0.9900000000000001" />
<text x="402.40" y="644.50" font-size="11" text-anchor="middle" fill="#1a1a1a" >0.001</text>
<line x1="429.20" y1="629.80" x2="429.20" y2="633.50" stroke="#333" stroke-width="0.9900000000000001" />
<text x="429.20" y="644.50" font-size="11" text-anchor="middle" fill="#1a1a1a" >0.01</text>
<line x1="456.00" y1="629.80" x2="456.00" y2="633.50" stroke="#333" stroke-width="0.9900000000000001" />
<text x="456.00" y="644.50" font-size="11" text-anchor="middle" fill="#1a1a1a" >0.1</text>
<line x1="482.80" y1="629.80" x2="482.80" y2="633.50" stroke="#333" stroke-width="0.9900000000000001" />
<text x="482.80" y="644.50" font-size="11" text-anchor="middle" fill="#1a1a1a" >1</text>
<line x1="509.60" y1="629.80" x2="509.60" y2="633.50" stroke="#333" stroke-width="0.9900000000000001" />
<text x="509.60" y="644.50" font-size="11" text-anchor="middle" fill="#1a1a1a" >10</text>
<text x="434.00" y="520.30" font-size="11" text-anchor="middle" fill="#1a1a1a" >PC9</text>
<text x="456.40" y="662.50" font-size="11" text-anchor="middle" fill="#1a1a1a" >Osimertinib (<tspan dx="1.6">μM</tspan><tspan dx="1.3">)</tspan></text>
<text transform="translate(373.20,578.00) rotate(-90)" font-size="11" text-anchor="middle" fill="#1a1a1a" >Cell viability (%)</text>
<line x1="402.40" y1="560.80" x2="402.40" y2="554.26" stroke="#8080ff" stroke-width="1.0" />
<line x1="399.90" y1="554.26" x2="404.90" y2="554.26" stroke="#8080ff" stroke-width="1.0" />
<line x1="399.90" y1="560.80" x2="404.90" y2="560.80" stroke="#8080ff" stroke-width="1.0" />
<line x1="429.20" y1="586.47" x2="429.20" y2="575.03" stroke="#8080ff" stroke-width="1.0" />
<line x1="426.70" y1="575.03" x2="431.70" y2="575.03" stroke="#8080ff" stroke-width="1.0" />
<line x1="426.70" y1="586.47" x2="431.70" y2="586.47" stroke="#8080ff" stroke-width="1.0" />
<line x1="442.60" y1="598.41" x2="442.60" y2="588.60" stroke="#8080ff" stroke-width="1.0" />
<line x1="440.10" y1="588.60" x2="445.10" y2="588.60" stroke="#8080ff" stroke-width="1.0" />
<line x1="440.10" y1="598.41" x2="445.10" y2="598.41" stroke="#8080ff" stroke-width="1.0" />
<line x1="456.00" y1="602.66" x2="456.00" y2="594.48" stroke="#8080ff" stroke-width="1.0" />
<line x1="453.50" y1="594.48" x2="458.50" y2="594.48" stroke="#8080ff" stroke-width="1.0" />
<line x1="453.50" y1="602.66" x2="458.50" y2="602.66" stroke="#8080ff" stroke-width="1.0" />
<line x1="469.40" y1="610.34" x2="469.40" y2="602.17" stroke="#8080ff" stroke-width="1.0" />
<line x1="466.90" y1="602.17" x2="471.90" y2="602.17" stroke="#8080ff" stroke-width="1.0" />
<line x1="466.90" y1="610.34" x2="471.90" y2="610.34" stroke="#8080ff" stroke-width="1.0" />
<line x1="482.80" y1="612.39" x2="482.80" y2="604.21" stroke="#8080ff" stroke-width="1.0" />
<line x1="480.30" y1="604.21" x2="485.30" y2="604.21" stroke="#8080ff" stroke-width="1.0" />
<line x1="480.30" y1="612.39" x2="485.30" y2="612.39" stroke="#8080ff" stroke-width="1.0" />
<line x1="496.20" y1="618.76" x2="496.20" y2="608.95" stroke="#8080ff" stroke-width="1.0" />
<line x1="493.70" y1="608.95" x2="498.70" y2="608.95" stroke="#8080ff" stroke-width="1.0" />
<line x1="493.70" y1="618.76" x2="498.70" y2="618.76" stroke="#8080ff" stroke-width="1.0" />
<line x1="509.60" y1="620.32" x2="509.60" y2="612.14" stroke="#8080ff" stroke-width="1.0" />
<line x1="507.10" y1="612.14" x2="512.10" y2="612.14" stroke="#8080ff" stroke-width="1.0" />
<line x1="507.10" y1="620.32" x2="512.10" y2="620.32" stroke="#8080ff" stroke-width="1.0" />
<line x1="402.40" y1="555.08" x2="402.40" y2="548.54" stroke="#ff8080" stroke-width="1.0" />
<line x1="399.90" y1="548.54" x2="404.90" y2="548.54" stroke="#ff8080" stroke-width="1.0" />
<line x1="399.90" y1="555.08" x2="404.90" y2="555.08" stroke="#ff8080" stroke-width="1.0" />
<line x1="429.20" y1="566.36" x2="429.20" y2="558.19" stroke="#ff8080" stroke-width="1.0" />
<line x1="426.70" y1="558.19" x2="431.70" y2="558.19" stroke="#ff8080" stroke-width="1.0" />
<line x1="426.70" y1="566.36" x2="431.70" y2="566.36" stroke="#ff8080" stroke-width="1.0" />
<line x1="442.60" y1="575.35" x2="442.60" y2="560.64" stroke="#ff8080" stroke-width="1.0" />
<line x1="440.10" y1="560.64" x2="445.10" y2="560.64" stroke="#ff8080" stroke-width="1.0" />
<line x1="440.10" y1="575.35" x2="445.10" y2="575.35" stroke="#ff8080" stroke-width="1.0" />
<line x1="456.00" y1="578.30" x2="456.00" y2="570.12" stroke="#ff8080" stroke-width="1.0" />
<line x1="453.50" y1="570.12" x2="458.50" y2="570.12" stroke="#ff8080" stroke-width="1.0" />
<line x1="453.50" y1="578.30" x2="458.50" y2="578.30" stroke="#ff8080" stroke-width="1.0" />
<line x1="469.40" y1="589.58" x2="469.40" y2="576.50" stroke="#ff8080" stroke-width="1.0" />
<line x1="466.90" y1="576.50" x2="471.90" y2="576.50" stroke="#ff8080" stroke-width="1.0" />
<line x1="466.90" y1="589.58" x2="471.90" y2="589.58" stroke="#ff8080" stroke-width="1.0" />
<line x1="482.80" y1="600.62" x2="482.80" y2="589.17" stroke="#ff8080" stroke-width="1.0" />
<line x1="480.30" y1="589.17" x2="485.30" y2="589.17" stroke="#ff8080" stroke-width="1.0" />
<line x1="480.30" y1="600.62" x2="485.30" y2="600.62" stroke="#ff8080" stroke-width="1.0" />
<line x1="496.20" y1="606.99" x2="496.20" y2="598.82" stroke="#ff8080" stroke-width="1.0" />
<line x1="493.70" y1="598.82" x2="498.70" y2="598.82" stroke="#ff8080" stroke-width="1.0" />
<line x1="493.70" y1="606.99" x2="498.70" y2="606.99" stroke="#ff8080" stroke-width="1.0" />
<line x1="509.60" y1="615.49" x2="509.60" y2="607.32" stroke="#ff8080" stroke-width="1.0" />
<line x1="507.10" y1="607.32" x2="512.10" y2="607.32" stroke="#ff8080" stroke-width="1.0" />
<line x1="507.10" y1="615.49" x2="512.10" y2="615.49" stroke="#ff8080" stroke-width="1.0" />
<polyline points="402.40,551.81 429.20,562.27 442.60,568.00 456.00,574.21 469.40,583.04 482.80,594.89 496.20,602.90 509.60,611.41" fill="none" stroke="#ff0000" stroke-width="1.2"/>
<rect x="400.00" y="549.41" width="4.80" height="4.80" fill="#ff0000" />
<rect x="426.80" y="559.87" width="4.80" height="4.80" fill="#ff0000" />
<rect x="440.20" y="565.60" width="4.80" height="4.80" fill="#ff0000" />
<rect x="453.60" y="571.81" width="4.80" height="4.80" fill="#ff0000" />
<rect x="467.00" y="580.64" width="4.80" height="4.80" fill="#ff0000" />
<rect x="480.40" y="592.49" width="4.80" height="4.80" fill="#ff0000" />
<rect x="493.80" y="600.50" width="4.80" height="4.80" fill="#ff0000" />
<rect x="507.20" y="609.01" width="4.80" height="4.80" fill="#ff0000" />
<polyline points="402.40,557.53 429.20,580.75 442.60,593.50 456.00,598.57 469.40,606.26 482.80,608.30 496.20,613.86 509.60,616.23" fill="none" stroke="#0000ff" stroke-width="1.2"/>
<circle cx="402.40" cy="557.53" r="2.45" fill="#0000ff"/>
<circle cx="429.20" cy="580.75" r="2.45" fill="#0000ff"/>
<circle cx="442.60" cy="593.50" r="2.45" fill="#0000ff"/>
<circle cx="456.00" cy="598.57" r="2.45" fill="#0000ff"/>
<circle cx="469.40" cy="606.26" r="2.45" fill="#0000ff"/>
<circle cx="482.80" cy="608.30" r="2.45" fill="#0000ff"/>
<circle cx="496.20" cy="613.86" r="2.45" fill="#0000ff"/>
<circle cx="509.60" cy="616.23" r="2.45" fill="#0000ff"/>
<line x1="451.00" y1="531.30" x2="461.60" y2="531.30" stroke="#0000ff" stroke-width="1.2" />
<circle cx="456.30" cy="531.30" r="2.08" fill="#0000ff"/>
<text x="468.00" y="534.60" font-size="11" text-anchor="start" fill="#1a1a1a" >Vector</text>
<line x1="451.00" y1="544.50" x2="461.60" y2="544.50" stroke="#ff0000" stroke-width="1.2" />
<rect x="454.26" y="542.46" width="4.08" height="4.08" fill="#ff0000" />
<text x="468.00" y="547.80" font-size="11" text-anchor="start" fill="#1a1a1a" >NNMT</text>
<line x1="505.50" y1="529.90" x2="505.50" y2="547.70" stroke="#333" stroke-width="1.3" />
<text x="510.40" y="544.70" font-size="11" text-anchor="middle" fill="#1a1a1a" >*</text>
<line x1="563.00" y1="629.55" x2="563.00" y2="530.05" stroke="#333" stroke-width="1.1" />
<line x1="559.00" y1="629.00" x2="563.00" y2="629.00" stroke="#333" stroke-width="0.9900000000000001" />
<text x="557.70" y="632.70" font-size="11" text-anchor="end" fill="#1a1a1a" >0</text>
<line x1="559.00" y1="612.60" x2="563.00" y2="612.60" stroke="#333" stroke-width="0.9900000000000001" />
<text x="557.70" y="616.30" font-size="11" text-anchor="end" fill="#1a1a1a" >20</text>
<line x1="559.00" y1="596.20" x2="563.00" y2="596.20" stroke="#333" stroke-width="0.9900000000000001" />
<text x="557.70" y="599.90" font-size="11" text-anchor="end" fill="#1a1a1a" >40</text>
<line x1="559.00" y1="579.80" x2="563.00" y2="579.80" stroke="#333" stroke-width="0.9900000000000001" />
<text x="557.70" y="583.50" font-size="11" text-anchor="end" fill="#1a1a1a" >60</text>
<line x1="559.00" y1="563.40" x2="563.00" y2="563.40" stroke="#333" stroke-width="0.9900000000000001" />
<text x="557.70" y="567.10" font-size="11" text-anchor="end" fill="#1a1a1a" >80</text>
<line x1="559.00" y1="547.00" x2="563.00" y2="547.00" stroke="#333" stroke-width="0.9900000000000001" />
<text x="557.70" y="550.70" font-size="11" text-anchor="end" fill="#1a1a1a" >100</text>
<line x1="559.00" y1="530.60" x2="563.00" y2="530.60" stroke="#333" stroke-width="0.9900000000000001" />
<text x="557.70" y="534.30" font-size="11" text-anchor="end" fill="#1a1a1a" >120</text>
<line x1="563.00" y1="629.00" x2="670.80" y2="629.00" stroke="#333" stroke-width="1.1" />
<line x1="563.00" y1="629.00" x2="563.00" y2="632.70" stroke="#333" stroke-width="0.9900000000000001" />
<text x="563.00" y="643.70" font-size="11" text-anchor="middle" fill="#1a1a1a" >0.001</text>
<line x1="589.80" y1="629.00" x2="589.80" y2="632.70" stroke="#333" stroke-width="0.9900000000000001" />
<text x="589.80" y="643.70" font-size="11" text-anchor="middle" fill="#1a1a1a" >0.01</text>
<line x1="616.60" y1="629.00" x2="616.60" y2="632.70" stroke="#333" stroke-width="0.9900000000000001" />
<text x="616.60" y="643.70" font-size="11" text-anchor="middle" fill="#1a1a1a" >0.1</text>
<line x1="643.40" y1="629.00" x2="643.40" y2="632.70" stroke="#333" stroke-width="0.9900000000000001" />
<text x="643.40" y="643.70" font-size="11" text-anchor="middle" fill="#1a1a1a" >1</text>
<line x1="670.20" y1="629.00" x2="670.20" y2="632.70" stroke="#333" stroke-width="0.9900000000000001" />
<text x="670.20" y="643.70" font-size="11" text-anchor="middle" fill="#1a1a1a" >10</text>
<text x="600.50" y="517.00" font-size="11" text-anchor="middle" fill="#1a1a1a" >HCC827</text>
<text x="617.00" y="661.80" font-size="11" text-anchor="middle" fill="#1a1a1a" >Osimertinib (<tspan dx="1.6">μM</tspan><tspan dx="1.3">)</tspan></text>
<text transform="translate(534.20,577.00) rotate(-90)" font-size="11" text-anchor="middle" fill="#1a1a1a" >Cell viability (%)</text>
<line x1="563.00" y1="555.69" x2="563.00" y2="549.13" stroke="#8080ff" stroke-width="1.0" />
<line x1="560.50" y1="549.13" x2="565.50" y2="549.13" stroke="#8080ff" stroke-width="1.0" />
<line x1="560.50" y1="555.69" x2="565.50" y2="555.69" stroke="#8080ff" stroke-width="1.0" />
<line x1="589.80" y1="585.62" x2="589.80" y2="574.14" stroke="#8080ff" stroke-width="1.0" />
<line x1="587.30" y1="574.14" x2="592.30" y2="574.14" stroke="#8080ff" stroke-width="1.0" />
<line x1="587.30" y1="585.62" x2="592.30" y2="585.62" stroke="#8080ff" stroke-width="1.0" />
<line x1="603.20" y1="595.87" x2="603.20" y2="584.39" stroke="#8080ff" stroke-width="1.0" />
<line x1="600.70" y1="584.39" x2="605.70" y2="584.39" stroke="#8080ff" stroke-width="1.0" />
<line x1="600.70" y1="595.87" x2="605.70" y2="595.87" stroke="#8080ff" stroke-width="1.0" />
<line x1="616.60" y1="603.58" x2="616.60" y2="592.10" stroke="#8080ff" stroke-width="1.0" />
<line x1="614.10" y1="592.10" x2="619.10" y2="592.10" stroke="#8080ff" stroke-width="1.0" />
<line x1="614.10" y1="603.58" x2="619.10" y2="603.58" stroke="#8080ff" stroke-width="1.0" />
<line x1="630.00" y1="612.27" x2="630.00" y2="599.15" stroke="#8080ff" stroke-width="1.0" />
<line x1="627.50" y1="599.15" x2="632.50" y2="599.15" stroke="#8080ff" stroke-width="1.0" />
<line x1="627.50" y1="612.27" x2="632.50" y2="612.27" stroke="#8080ff" stroke-width="1.0" />
<line x1="643.40" y1="616.13" x2="643.40" y2="607.93" stroke="#8080ff" stroke-width="1.0" />
<line x1="640.90" y1="607.93" x2="645.90" y2="607.93" stroke="#8080ff" stroke-width="1.0" />
<line x1="640.90" y1="616.13" x2="645.90" y2="616.13" stroke="#8080ff" stroke-width="1.0" />
<line x1="656.80" y1="618.01" x2="656.80" y2="609.81" stroke="#8080ff" stroke-width="1.0" />
<line x1="654.30" y1="609.81" x2="659.30" y2="609.81" stroke="#8080ff" stroke-width="1.0" />
<line x1="654.30" y1="618.01" x2="659.30" y2="618.01" stroke="#8080ff" stroke-width="1.0" />
<line x1="670.20" y1="619.49" x2="670.20" y2="611.29" stroke="#8080ff" stroke-width="1.0" />
<line x1="667.70" y1="611.29" x2="672.70" y2="611.29" stroke="#8080ff" stroke-width="1.0" />
<line x1="667.70" y1="619.49" x2="672.70" y2="619.49" stroke="#8080ff" stroke-width="1.0" />
<line x1="563.00" y1="558.97" x2="563.00" y2="545.85" stroke="#ff8080" stroke-width="1.0" />
<line x1="560.50" y1="545.85" x2="565.50" y2="545.85" stroke="#ff8080" stroke-width="1.0" />
<line x1="560.50" y1="558.97" x2="565.50" y2="558.97" stroke="#ff8080" stroke-width="1.0" />
<line x1="589.80" y1="567.58" x2="589.80" y2="561.02" stroke="#ff8080" stroke-width="1.0" />
<line x1="587.30" y1="561.02" x2="592.30" y2="561.02" stroke="#ff8080" stroke-width="1.0" />
<line x1="587.30" y1="567.58" x2="592.30" y2="567.58" stroke="#ff8080" stroke-width="1.0" />
<line x1="603.20" y1="576.60" x2="603.20" y2="566.76" stroke="#ff8080" stroke-width="1.0" />
<line x1="600.70" y1="566.76" x2="605.70" y2="566.76" stroke="#ff8080" stroke-width="1.0" />
<line x1="600.70" y1="576.60" x2="605.70" y2="576.60" stroke="#ff8080" stroke-width="1.0" />
<line x1="616.60" y1="583.16" x2="616.60" y2="571.68" stroke="#ff8080" stroke-width="1.0" />
<line x1="614.10" y1="571.68" x2="619.10" y2="571.68" stroke="#ff8080" stroke-width="1.0" />
<line x1="614.10" y1="583.16" x2="619.10" y2="583.16" stroke="#ff8080" stroke-width="1.0" />
<line x1="630.00" y1="592.10" x2="630.00" y2="580.62" stroke="#ff8080" stroke-width="1.0" />
<line x1="627.50" y1="580.62" x2="632.50" y2="580.62" stroke="#ff8080" stroke-width="1.0" />
<line x1="627.50" y1="592.10" x2="632.50" y2="592.10" stroke="#ff8080" stroke-width="1.0" />
<line x1="643.40" y1="601.53" x2="643.40" y2="590.05" stroke="#ff8080" stroke-width="1.0" />
<line x1="640.90" y1="590.05" x2="645.90" y2="590.05" stroke="#ff8080" stroke-width="1.0" />
<line x1="640.90" y1="601.53" x2="645.90" y2="601.53" stroke="#ff8080" stroke-width="1.0" />
<line x1="656.80" y1="606.12" x2="656.80" y2="596.28" stroke="#ff8080" stroke-width="1.0" />
<line x1="654.30" y1="596.28" x2="659.30" y2="596.28" stroke="#ff8080" stroke-width="1.0" />
<line x1="654.30" y1="606.12" x2="659.30" y2="606.12" stroke="#ff8080" stroke-width="1.0" />
<line x1="670.20" y1="613.17" x2="670.20" y2="604.97" stroke="#ff8080" stroke-width="1.0" />
<line x1="667.70" y1="604.97" x2="672.70" y2="604.97" stroke="#ff8080" stroke-width="1.0" />
<line x1="667.70" y1="613.17" x2="672.70" y2="613.17" stroke="#ff8080" stroke-width="1.0" />
<polyline points="563.00,552.41 589.80,564.30 603.20,571.68 616.60,577.42 630.00,586.36 643.40,595.79 656.80,601.20 670.20,609.07" fill="none" stroke="#ff0000" stroke-width="1.2"/>
<rect x="560.60" y="550.01" width="4.80" height="4.80" fill="#ff0000" />
<rect x="587.40" y="561.90" width="4.80" height="4.80" fill="#ff0000" />
<rect x="600.80" y="569.28" width="4.80" height="4.80" fill="#ff0000" />
<rect x="614.20" y="575.02" width="4.80" height="4.80" fill="#ff0000" />
<rect x="627.60" y="583.96" width="4.80" height="4.80" fill="#ff0000" />
<rect x="641.00" y="593.39" width="4.80" height="4.80" fill="#ff0000" />
<rect x="654.40" y="598.80" width="4.80" height="4.80" fill="#ff0000" />
<rect x="667.80" y="606.67" width="4.80" height="4.80" fill="#ff0000" />
<polyline points="563.00,552.41 589.80,579.88 603.20,590.13 616.60,597.84 630.00,605.71 643.40,612.03 656.80,613.91 670.20,615.39" fill="none" stroke="#0000ff" stroke-width="1.2"/>
<circle cx="563.00" cy="552.41" r="2.45" fill="#0000ff"/>
<circle cx="589.80" cy="579.88" r="2.45" fill="#0000ff"/>
<circle cx="603.20" cy="590.13" r="2.45" fill="#0000ff"/>
<circle cx="616.60" cy="597.84" r="2.45" fill="#0000ff"/>
<circle cx="630.00" cy="605.71" r="2.45" fill="#0000ff"/>
<circle cx="643.40" cy="612.03" r="2.45" fill="#0000ff"/>
<circle cx="656.80" cy="613.91" r="2.45" fill="#0000ff"/>
<circle cx="670.20" cy="615.39" r="2.45" fill="#0000ff"/>
<line x1="612.80" y1="531.70" x2="623.40" y2="531.70" stroke="#0000ff" stroke-width="1.2" />
<circle cx="618.10" cy="531.70" r="2.08" fill="#0000ff"/>
<text x="629.50" y="535.00" font-size="11" text-anchor="start" fill="#1a1a1a" >Vector</text>
<line x1="612.80" y1="544.80" x2="623.40" y2="544.80" stroke="#ff0000" stroke-width="1.2" />
<rect x="616.06" y="542.76" width="4.08" height="4.08" fill="#ff0000" />
<text x="629.50" y="548.10" font-size="11" text-anchor="start" fill="#1a1a1a" >NNMT</text>
<line x1="667.70" y1="530.70" x2="667.70" y2="548.00" stroke="#333" stroke-width="1.3" />
<text x="672.50" y="545.80" font-size="11" text-anchor="middle" fill="#1a1a1a" >*</text>
</svg>
</body></html>
